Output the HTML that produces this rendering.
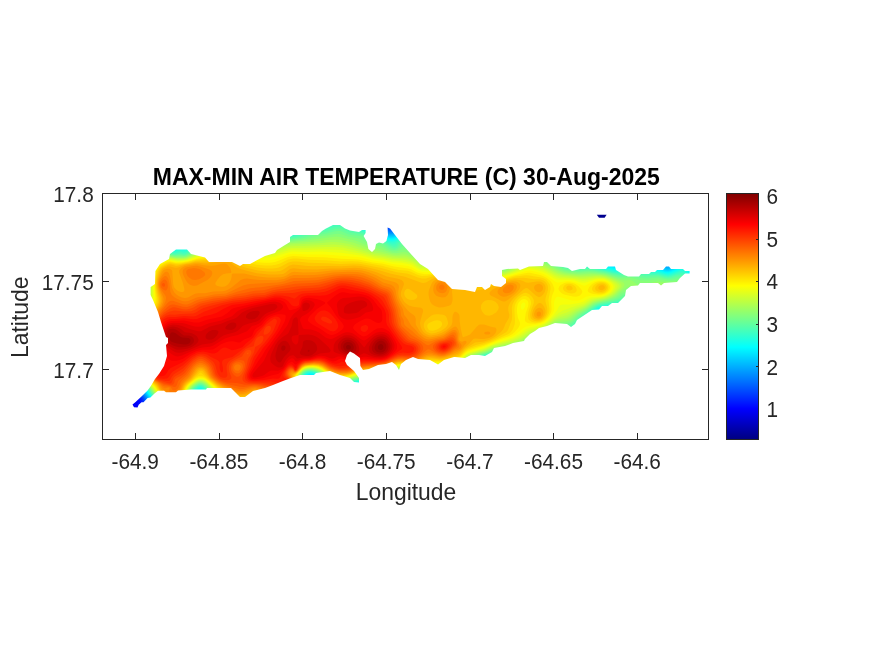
<!DOCTYPE html>
<html lang="en"><head><meta charset="utf-8"><title>MAX-MIN AIR TEMPERATURE (C) 30-Aug-2025</title>
<style>html,body{margin:0;padding:0;background:#fff}body{width:875px;height:656px;position:relative;overflow:hidden;font-family:"Liberation Sans",Arial,sans-serif}</style>
</head><body>
<svg width="875" height="656" viewBox="0 0 875 656" style="position:absolute;left:0;top:0">
<defs><linearGradient id="jet" x1="0" y1="0" x2="0" y2="1"><stop offset="0.0000" stop-color="#800000"/><stop offset="0.0156" stop-color="#8f0000"/><stop offset="0.0312" stop-color="#9f0000"/><stop offset="0.0469" stop-color="#af0000"/><stop offset="0.0625" stop-color="#bf0000"/><stop offset="0.0781" stop-color="#cf0000"/><stop offset="0.0938" stop-color="#df0000"/><stop offset="0.1094" stop-color="#ef0000"/><stop offset="0.1250" stop-color="#ff0000"/><stop offset="0.1406" stop-color="#ff1000"/><stop offset="0.1562" stop-color="#ff2000"/><stop offset="0.1719" stop-color="#ff3000"/><stop offset="0.1875" stop-color="#ff4000"/><stop offset="0.2031" stop-color="#ff5000"/><stop offset="0.2188" stop-color="#ff6000"/><stop offset="0.2344" stop-color="#ff7000"/><stop offset="0.2500" stop-color="#ff8000"/><stop offset="0.2656" stop-color="#ff8f00"/><stop offset="0.2812" stop-color="#ff9f00"/><stop offset="0.2969" stop-color="#ffaf00"/><stop offset="0.3125" stop-color="#ffbf00"/><stop offset="0.3281" stop-color="#ffcf00"/><stop offset="0.3438" stop-color="#ffdf00"/><stop offset="0.3594" stop-color="#ffef00"/><stop offset="0.3750" stop-color="#ffff00"/><stop offset="0.3906" stop-color="#efff10"/><stop offset="0.4062" stop-color="#dfff20"/><stop offset="0.4219" stop-color="#cfff30"/><stop offset="0.4375" stop-color="#bfff40"/><stop offset="0.4531" stop-color="#afff50"/><stop offset="0.4688" stop-color="#9fff60"/><stop offset="0.4844" stop-color="#8fff70"/><stop offset="0.5000" stop-color="#80ff80"/><stop offset="0.5156" stop-color="#70ff8f"/><stop offset="0.5312" stop-color="#60ff9f"/><stop offset="0.5469" stop-color="#50ffaf"/><stop offset="0.5625" stop-color="#40ffbf"/><stop offset="0.5781" stop-color="#30ffcf"/><stop offset="0.5938" stop-color="#20ffdf"/><stop offset="0.6094" stop-color="#10ffef"/><stop offset="0.6250" stop-color="#00ffff"/><stop offset="0.6406" stop-color="#00efff"/><stop offset="0.6562" stop-color="#00dfff"/><stop offset="0.6719" stop-color="#00cfff"/><stop offset="0.6875" stop-color="#00bfff"/><stop offset="0.7031" stop-color="#00afff"/><stop offset="0.7188" stop-color="#009fff"/><stop offset="0.7344" stop-color="#008fff"/><stop offset="0.7500" stop-color="#0080ff"/><stop offset="0.7656" stop-color="#0070ff"/><stop offset="0.7812" stop-color="#0060ff"/><stop offset="0.7969" stop-color="#0050ff"/><stop offset="0.8125" stop-color="#0040ff"/><stop offset="0.8281" stop-color="#0030ff"/><stop offset="0.8438" stop-color="#0020ff"/><stop offset="0.8594" stop-color="#0010ff"/><stop offset="0.8750" stop-color="#0000ff"/><stop offset="0.8906" stop-color="#0000ef"/><stop offset="0.9062" stop-color="#0000df"/><stop offset="0.9219" stop-color="#0000cf"/><stop offset="0.9375" stop-color="#0000bf"/><stop offset="0.9531" stop-color="#0000af"/><stop offset="0.9688" stop-color="#00009f"/><stop offset="0.9844" stop-color="#00008f"/><stop offset="1.0000" stop-color="#000080"/></linearGradient></defs>
<rect x="126" y="208" width="570" height="206" fill="#000087"/>
<g transform="scale(0.2)">
<path fill="#000097" d="M928 1045l14-5 991 0 27 10 25 4 105-5 60 1 90 7 215 24 55 4 125 4 70 7 80 15 135 35 60 15 55 10 45 6 50 3 175 5 40-3 90-9 45-3 0 787-65-17-65-20-60-22-115-46-45-16-50-12-20-2-25 0-50 6-150 33-105 18-75 9-130 9-45 6-25 6-25 8-81 33-39 14-40 11-40 7-40 5-40 2-130-2-45 1-110 10-55 7-55 12-89 23-31 13-27 17-978 0 0-898 21-17 24-16 25-14 30-14 45-17 95-29z"/>
<path fill="#0000a7" d="M952 1045l14-5 951 0 28 15 15 5 15 2 25 0 85-6 70 1 85 8 215 24 60 4 115 3 65 6 40 6 45 9 140 38 65 15 50 10 45 5 225 9 40-3 90-9 45-3 0 765-65-16-70-22-60-22-115-47-40-14-45-11-25-3-20 0-25 2-25 5-145 35-110 21-80 10-135 9-45 6-45 13-82 35-38 14-40 11-40 8-40 4-45 3-120-3-45 1-120 11-55 7-105 24-40 11-33 14-29 20-962 0-6-7 0-881 20-17 25-17 25-15 30-14 40-15 110-34z"/>
<path fill="#0000b7" d="M975 1045l14-5 913 0 38 22 15 5 15 3 25 0 85-7 65 1 90 8 220 26 60 3 120 3 65 6 40 6 40 9 135 37 65 15 50 10 45 6 235 9 35-2 85-9 50-2 0 743-70-17-70-22-60-23-115-48-40-14-45-10-40-2-45 7-145 39-110 22-85 12-140 9-45 7-45 14-75 33-35 13-40 12-40 8-40 5-45 3-125-2-45 1-128 11-52 7-120 27-30 8-30 14-32 24-941 0-17-24 0-854 20-18 25-18 25-15 30-14 50-19 115-34z"/>
<path fill="#0000c7" d="M998 1045l14-5 878 0 45 29 15 6 15 3 25 0 85-8 65 1 90 8 225 27 60 3 120 2 65 6 40 6 40 9 130 36 65 16 54 11 41 6 40 2 90 2 110 6 35-2 85-10 50-1 0 721-70-16-70-22-55-21-115-48-45-17-40-10-20-2-20 0-20 2-25 5-145 42-55 13-60 12-90 13-135 9-50 8-40 13-75 33-35 14-40 12-40 9-40 5-45 2-125-2-45 1-135 12-50 8-125 27-30 8-15 7-15 8-31 26-919 0-16-20-14-23 0-825 24-22 26-19 25-15 30-14 45-16 115-33z"/>
<path fill="#0000d7" d="M1021 1045l15-5 842 0 52 36 15 7 15 3 25 1 85-10 60 0 90 8 185 24 55 6 55 3 115 1 55 3 35 5 40 8 190 51 65 15 50 7 40 3 95 2 115 7 30-2 85-10 50-1 0 700-70-16-75-24-65-25-110-48-40-14-40-10-35-1-25 3-25 7-94 31-51 15-105 24-95 15-140 10-45 7-40 13-75 34-35 14-35 11-40 9-45 6-45 3-125-3-45 1-140 13-50 8-130 27-25 7-15 7-15 9-34 30-899 0-19-25-23-37 0-796 23-22 26-20 26-16 30-14 45-16 119-34z"/>
<path fill="#0000e7" d="M1045 1045l16-5 805 0 64 45 15 7 15 3 20 0 80-11 30-1 35 1 90 8 190 25 55 6 55 3 115 0 55 4 35 4 40 8 185 51 70 15 50 8 40 3 95 1 115 9 30-2 80-10 55-1 0 678-70-15-75-23-60-24-115-51-40-15-35-9-35-2-25 3-25 7-90 33-55 17-50 14-60 13-50 9-50 7-140 10-45 8-40 13-70 34-35 14-35 11-40 10-40 5-45 3-45 0-95-2-55 2-145 15-100 21-65 11-25 8-20 10-20 17-22 22-878 0-23-30-19-35-13-14 0-769 22-22 25-20 28-18 30-14 45-17 120-33z"/>
<path fill="#0000f7" d="M1070 1045l19-5 766 0 70 50 15 8 15 5 20 0 80-12 60-1 95 9 195 27 55 6 55 2 115-1 55 4 40 5 40 9 135 38 75 19 55 11 45 6 125 3 95 8 25 1 30-2 75-10 25-1 30 1 0 657-75-17-75-23-60-24-115-52-40-16-35-8-30-1-20 2-25 7-90 37-53 18-52 15-60 14-55 11-50 7-45 5-100 6-45 8-35 12-70 34-30 13-35 12-40 10-45 7-45 3-45 0-90-3-55 2-150 16-100 20-75 12-20 6-20 11-20 18-25 26-858 0-28-40-9-25-9-10-21-16 0-746 22-23 23-20 30-20 30-15 45-16 120-32 115-44z"/>
<path fill="#0008ff" d="M1099 1045l23-5 721 0 82 59 15 8 15 4 20-1 45-9 30-4 30-1 30 0 92 9 203 29 55 6 55 3 115-2 55 3 40 5 40 9 127 37 82 20 61 13 40 5 125 2 120 11 25-1 80-12 25-1 30 1 0 636-65-13-65-19-80-30-115-54-35-15-35-10-20-2-15 0-20 3-25 8-85 38-50 19-53 16-62 16-60 12-50 8-50 6-95 5-45 8-40 14-65 33-30 13-35 13-40 10-45 6-45 3-45 1-90-4-50 3-155 15-100 21-85 12-20 7-15 9-15 13-32 36-841 0-18-40-2-20-1-5-13-10-43-26 0-725 25-28 24-21 31-20 30-15 45-15 80-20 35-10 130-50z"/>
<path fill="#0018ff" d="M1135 1045l33-5 664 0 33 22 60 45 15 8 15 4 15-1 50-11 25-3 30-2 30 0 90 9 210 31 55 7 55 2 120-3 55 3 35 6 40 8 115 34 61 16 84 19 45 6 135 2 115 13 25-2 75-12 30-1 30 2 0 614-65-12-70-20-80-31-110-53-35-16-20-7-20-4-30-2-20 4-20 6-105 51-40 15-45 14-85 22-75 15-60 8-105 6-40 7-40 14-65 34-35 16-35 11-35 9-45 7-45 3-45 0-90-3-45 2-160 16-100 20-90 11-20 7-15 10-15 14-35 40-823 0-12-30-2-30-3-11-10-8-35-17-25-14 0-704 25-30 25-23 30-21 30-15 45-15 110-27 35-12 115-45 45-13z"/>
<path fill="#0028ff" d="M1191 1045l64-4 115-1 450 0 40 26 65 49 15 8 10 3 20-1 45-11 25-4 25-2 30 0 85 9 230 34 50 6 55 2 120-4 55 3 35 5 35 8 115 35 55 14 95 21 45 7 135 1 35 3 65 10 20 1 25-2 45-9 25-3 30-1 30 3 0 593-70-13-70-20-40-15-40-18-110-54-35-16-35-10-15-2-15 0-15 2-20 7-105 56-40 16-45 15-90 24-80 17-60 7-100 6-40 7-20 6-20 9-65 34-35 16-35 12-35 9-45 6-50 4-45 0-85-4-40 2-165 17-105 21-75 5-20 4-15 5-15 11-52 60-808 0-10-25-5-40-5-11-11-9-39-19-25-14 0-684 25-33 27-25 33-23 35-17 40-12 80-18 35-10 120-47 50-17 55-13z"/>
<path fill="#0038ff" d="M1425 1045l32-5 350 0 48 30 70 52 15 8 10 3 15-1 45-11 30-5 35-2 35 1 78 10 222 34 50 6 55 2 125-5 35 2 30 3 60 13 100 31 45 12 110 24 45 8 30 1 70-2 40 2 35 3 65 11 20 2 20-1 50-11 25-4 30 0 30 3 0 572-40-6-35-7-70-21-40-15-40-18-110-56-30-14-35-11-15-2-15 0-15 2-20 7-20 11-55 34-30 16-40 18-45 15-92 26-78 17-60 8-105 6-40 8-35 13-65 35-30 14-35 13-35 9-45 7-50 4-50 0-85-3-35 1-85 10-90 8-105 21-30 3-50 1-15 2-15 6-15 12-54 65-793 0-10-25-8-41-7-14-13-11-40-20-25-15 0-663 10-16 20-25 25-24 25-18 30-16 45-16 85-18 35-10 35-12 85-36 55-18 60-13 60-7 60-3 115 0z"/>
<path fill="#0048ff" d="M1475 1045l21-5 298 0 26 14 25 16 80 59 15 8 10 2 15-1 45-12 30-5 30-1 35 1 65 9 240 38 50 6 55 2 125-7 35 2 30 3 60 13 95 30 40 11 120 27 40 7 30 1 75-2 40 1 40 5 60 11 20 3 20-2 50-12 25-3 30 0 30 4 0 550-35-5-40-7-35-9-40-13-35-14-40-18-115-60-30-14-30-10-15-2-15-1-15 3-20 8-20 11-55 38-26 15-39 18-45 17-100 29-80 18-60 8-100 6-40 7-35 13-70 38-30 14-30 11-35 10-45 7-55 4-45 0-80-4-35 1-90 11-90 8-80 17-25 4-30 2-55-1-16 2-14 6-10 8-43 56-17 20-780 0-11-25-11-45-8-15-15-11-40-21-25-16 0-642 20-32 18-23 22-20 25-18 30-16 45-14 80-16 35-9 35-13 90-38 60-19 50-11 50-6 60-3 145 0 40-4z"/>
<path fill="#0058ff" d="M1510 1045l17-5 252 0 26 13 25 14 30 20 60 46 15 8 10 4 20-1 45-12 25-5 30-2 30 2 50 6 270 44 45 5 55 2 125-8 35 1 30 4 60 13 90 29 35 10 135 30 35 6 30 2 75-3 40 1 40 5 65 13 20 2 15-1 50-14 25-3 30 0 30 6 0 528-40-5-35-6-40-10-35-12-40-15-40-19-110-59-30-15-35-11-15-3-15 1-15 3-20 9-70 51-34 21-31 15-40 15-105 32-80 19-60 8-105 7-40 8-35 13-60 34-30 15-35 14-35 9-45 8-55 4-50 0-80-4-30 1-90 11-95 9-70 15-30 5-35 1-55-3-20 2-10 5-10 10-37 52-25 30-766 0-12-25-12-45-8-15-18-15-42-24-25-16 0-619 13-26 17-25 20-23 20-17 25-17 25-12 40-13 80-14 40-11 30-11 90-38 35-13 30-8 55-11 55-6 55-1 115 1 40-2 45-6z"/>
<path fill="#0068ff" d="M1540 1045l18-5 204 0 33 14 30 17 30 19 60 45 16 10 14 5 20-1 45-12 25-5 25-1 30 1 35 5 165 26 130 23 45 5 55 1 115-9 35 1 35 3 57 13 88 29 35 10 145 32 30 5 30 2 75-4 45 2 40 5 60 14 20 3 15-2 45-13 25-5 30 0 35 7 0 507-35-3-40-7-40-10-40-13-35-14-40-19-110-60-30-15-35-12-15-3-15 0-20 5-20 11-61 48-37 25-32 16-40 16-110 35-80 19-60 9-100 6-40 7-35 14-65 37-30 15-30 11-35 10-45 7-55 5-50-1-80-4-30 1-90 13-95 8-75 16-35 5-35-1-55-6-15 1-10 6-9 10-36 55-29 35-753 0-12-25-16-49-10-16-15-13-46-27-24-17 0-594 15-34 20-31 20-23 20-17 25-17 25-11 40-12 80-14 35-9 30-11 92-40 33-11 30-9 55-11 55-5 55-1 120 2 45-3 45-8z"/>
<path fill="#0078ff" d="M1569 1045l20-5 153 0 38 14 35 18 35 22 65 47 15 9 15 5 10 1 10-1 40-12 20-4 20-2 25 0 45 5 195 32 110 20 45 6 45 1 110-10 30-1 30 1 35 5 35 8 100 33 35 9 175 37 30 2 75-4 45 1 45 7 60 15 15 2 15-1 45-16 25-4 30 0 35 9 0 485-35-3-40-6-40-10-35-11-40-15-40-19-110-62-35-17-35-12-15-2-15 1-20 5-15 9-62 53-35 25-33 18-35 15-116 37-79 20-60 9-105 7-40 8-35 15-60 35-30 15-30 12-35 9-45 8-55 4-50 0-80-4-30 1-90 13-95 8-75 16-35 5-35-1-60-11-15 1-9 5-6 6-37 64-15 20-19 20-739 0-14-25-17-50-10-15-19-17-45-28-25-18 0-566 18-46 11-20 13-20 18-20 20-17 20-14 25-12 40-12 80-12 35-9 30-11 95-42 35-12 30-8 55-10 55-5 55-1 115 3 50-2 45-9z"/>
<path fill="#0087ff" d="M1601 1045l27-5 85 0 37 9 30 12 35 17 35 22 65 46 20 11 15 3 15-1 55-14 20-3 25 0 40 5 90 16 120 20 105 19 45 7 30 1 25-1 110-12 30 0 25 1 30 4 35 8 95 33 35 10 80 15 75 18 25 5 35 1 75-5 40 1 50 8 55 16 15 3 15-2 45-17 25-5 30 2 35 10 0 463-35-2-40-6-40-9-40-13-35-14-40-19-110-63-30-15-20-8-20-5-15-2-15 0-20 4-18 11-62 57-35 26-30 17-35 15-122 40-76 20-57 9-105 7-40 8-18 6-17 8-60 36-30 15-30 12-35 10-45 8-55 4-50 0-80-4-30 1-90 13-95 8-75 17-35 4-40-3-21-4-39-11-15-1-10 6-5 7-23 49-15 25-15 20-19 20-727 0-15-25-19-50-12-19-15-14-49-32-26-20 0-533 11-37 12-30 13-25 14-20 15-17 20-17 20-13 25-11 35-10 80-12 40-9 30-12 90-40 30-11 35-10 55-10 55-5 55 0 120 4 45-2 45-9 87-26z"/>
<path fill="#0097ff" d="M1645 1045l30-2 30 2 30 6 30 10 30 14 30 16 95 63 15 7 15 4 15-1 40-12 20-3 25-2 25 2 30 4 90 18 120 19 110 22 55 6 45-1 105-13 30-1 30 2 30 5 30 7 95 33 30 9 90 17 75 18 25 4 30 1 75-6 40 1 50 8 60 18 15 3 15-3 40-17 20-5 25 0 30 8 15 6 0 440-35-1-40-5-40-9-35-11-35-13-40-19-110-63-35-18-20-7-20-6-20-2-15 0-20 6-15 9-15 13-50 49-30 24-27 16-33 15-133 45-72 20-60 9-100 7-25 4-20 5-35 15-57 35-28 15-30 12-35 10-50 8-55 4-50 0-75-5-30 1-90 14-100 9-70 16-35 4-25-1-20-3-25-7-40-16-10-1-5 1-5 5-5 9-17 45-15 30-18 25-24 25-714 0-15-25-21-50-12-20-19-17-49-33-26-21 0-496 13-53 12-35 15-30 18-25 17-18 20-16 20-11 20-9 35-9 75-10 40-8 30-12 90-41 35-13 35-9 50-9 55-4 55 0 120 4 50-2 45-9 110-34z"/>
<path fill="#00a7ff" d="M1627 1055l33-4 35 0 30 5 30 8 30 13 35 18 95 61 20 10 15 4 15-1 35-11 20-4 25-2 25 2 30 5 85 18 125 20 120 24 50 6 45-1 75-12 30-4 30 0 30 2 30 4 30 8 90 32 30 9 95 17 85 21 35 3 80-7 45 1 25 4 30 6 60 19 10 2 10-2 40-18 20-6 25-1 24 6 26 12 0 417-35-1-40-4-40-9-35-10-35-14-40-18-105-61-35-18-25-9-20-5-20-3-20 1-20 6-15 10-60 61-30 25-30 18-30 14-139 48-70 20-56 9-100 7-45 9-15 5-20 10-57 35-28 15-30 12-35 10-50 9-55 4-50 0-75-5-30 1-90 15-100 8-70 16-35 4-30-2-25-5-25-10-35-18-10-3-5 0-5 3-5 10-12 46-15 35-20 30-29 30-700 0-18-25-24-55-12-18-15-15-53-37-27-23 0-460 19-77 9-30 14-30 20-30 13-15 20-17 20-12 20-9 35-9 75-8 45-10 25-10 90-42 35-13 35-9 50-9 55-4 55 0 125 6 45-2 40-8 100-31z"/>
<path fill="#00b7ff" d="M1641 1060l29-3 30 1 30 5 30 10 30 13 35 18 88 56 22 10 15 4 15-1 35-10 20-4 20-2 25 2 30 5 90 21 125 20 130 26 40 5 20 0 25-2 75-13 30-4 30-1 30 2 30 5 30 8 85 31 30 9 25 6 75 11 90 22 30 3 75-8 50 1 30 4 25 6 70 22 15-3 30-16 20-7 25-2 20 4 13 6 22 12 0 393-35 0-35-3-35-6-40-11-35-13-40-18-35-19-75-45-31-15-24-9-25-6-20-2-20 0-15 3-17 9-18 16-46 49-24 22-30 20-35 17-144 51-66 19-60 11-100 7-45 10-31 13-59 37-25 14-35 14-35 9-50 8-55 4-50-1-70-4-25 0-95 16-100 8-70 17-35 4-30-3-25-6-27-12-38-24-10-3-5-1-5 3-5 7-11 58-14 35-12 20-11 15-14 15-16 15-431 0-16-8-15-2-10 2-16 8-199 0-10-12-10-15-25-53-15-23-20-18-48-34-27-25 0-428 10-32 16-70 9-30 15-32 19-28 15-15 16-13 20-12 20-9 35-8 70-6 45-9 25-10 90-43 35-13 35-10 50-8 55-4 55 1 125 6 50-2 40-8 110-36z"/>
<path fill="#00c7ff" d="M1659 1065l26-1 25 2 25 5 26 9 29 13 30 15 90 55 25 11 15 4 15 0 35-11 20-4 20-1 20 2 30 6 90 22 120 19 135 28 45 6 25 0 20-2 70-14 35-5 30-1 30 1 30 5 30 9 85 32 30 9 25 5 75 10 90 23 30 2 75-8 50 1 30 4 30 7 65 21 5 1 10-4 30-16 20-7 20-2 20 4 15 7 25 16 0 368-35 1-35-2-35-6-40-11-35-12-40-19-105-60-35-17-25-8-25-6-25-2-20 0-15 4-15 9-15 13-52 55-21 20-27 19-30 15-155 56-65 20-55 10-100 7-45 10-31 13-64 40-25 13-30 12-35 10-50 8-60 4-45-1-70-4-25 0-95 17-100 8-70 16-35 4-30-3-25-7-25-12-45-30-10-3-5 0-6 3-6 10-8 60-6 20-9 20-12 20-12 15-14 15-17 15-406 0-34-24-15-5-5 1-10 5-29 23-174 0-12-13-10-14-29-58-14-20-17-16-52-39-28-27 0-400 17-48 16-75 9-30 14-30 19-28 15-15 15-12 15-9 20-9 35-8 70-6 45-8 25-9 60-31 35-15 35-13 35-9 50-8 50-2 50 1 130 6 50-1 40-9 120-38 30-7z"/>
<path fill="#00d7ff" d="M1641 1075l29-4 25 0 25 4 30 8 35 14 35 17 84 51 26 12 20 6 15-1 35-11 15-3 20-1 20 2 25 5 60 17 35 8 125 19 135 29 45 6 25 1 20-2 70-16 35-6 35-1 30 2 25 5 30 8 80 31 30 10 30 6 70 8 90 23 20 3 25 0 70-8 45 2 30 3 30 7 25 7 35 13 10 1 10-3 30-16 20-8 20-2 15 4 15 7 30 22 0 342-35 3-35-2-35-5-35-9-35-12-40-17-35-19-70-42-35-16-25-8-25-5-30-3-25 1-15 4-15 10-85 86-25 19-30 16-165 60-55 17-55 11-100 8-50 11-15 6-20 10-50 32-25 14-30 13-35 11-50 8-65 4-40 1-75-6-25 1-95 17-105 9-65 16-35 4-30-4-25-7-25-13-40-30-10-4-10-2-10 3-5 6-3 7-6 60-7 25-9 20-12 20-13 15-15 16-18 14-384 0-18-15-35-32-10-5-5 0-5 2-30 35-17 15-154 0-14-14-12-16-29-55-14-21-15-15-57-44-28-29 0-375 14-31 10-30 16-80 9-30 13-30 18-25 15-15 15-11 15-9 20-9 30-7 70-4 50-8 20-8 60-32 30-13 35-13 40-11 50-8 50-2 50 1 130 7 50-1 37-7 103-34z"/>
<path fill="#00e7ff" d="M1656 1080l24-2 25 1 20 4 25 7 60 26 25 13 60 36 30 14 20 7 10 1 10-1 35-10 15-3 15-1 20 1 30 7 55 17 30 8 145 23 120 26 35 7 25 2 25-1 20-4 55-14 30-6 30-3 30 1 30 4 35 9 85 34 30 10 25 4 55 5 25 4 100 25 25 1 75-9 40 1 35 4 30 6 25 7 30 11 15 3 15-5 30-16 15-5 15-2 15 2 12 6 23 20 15 10 0 316-30 4-35 0-35-4-35-8-35-11-40-17-35-19-75-44-35-15-24-7-26-4-35-2-25 1-15 5-15 11-72 74-18 17-20 14-25 13-177 66-48 15-55 10-95 8-53 12-32 15-55 36-25 13-30 13-35 9-50 8-65 4-40 0-70-5-25 1-95 18-105 8-65 17-35 3-25-2-25-7-25-13-37-28-13-8-15-4-10 1-7 6-5 10-2 10-2 35-2 20-6 20-8 20-12 20-16 20-16 15-20 15-363 0-19-15-15-15-18-20-19-27-10-8-5 1-5 6-12 28-16 25-14 15-12 10-134 0-7-5-15-15-10-14-30-56-15-20-15-14-56-46-29-31 0-352 18-37 12-32 7-28 10-60 8-30 14-30 16-22 13-13 12-10 17-10 18-8 15-4 20-4 60-2 55-8 20-7 55-30 35-17 35-13 40-10 45-7 50-3 45 1 145 8 50-1 40-9 115-38z"/>
<path fill="#00f7ff" d="M1680 1085l20 0 20 4 20 5 25 9 55 24 70 41 35 15 20 7 10 1 10 0 35-11 15-3 30 1 29 7 56 19 30 8 145 23 160 34 25 3 25-2 20-3 55-16 25-5 30-4 30 0 30 4 35 8 30 11 60 26 30 9 25 4 50 4 25 3 110 27 25-1 65-8 40 1 35 4 35 6 25 6 30 11 15 2 15-4 30-15 15-5 15-2 10 1 13 6 20 20 22 16 0 289-30 6-35 1-30-3-35-6-35-11-40-16-35-19-75-43-35-15-25-7-30-4-40 0-25 2-15 5-13 10-73 75-19 17-20 14-20 10-75 27-106 42-46 15-53 10-95 9-55 12-35 17-50 33-25 14-30 12-35 10-50 8-70 4-45 0-65-5-20 0-95 19-105 9-65 17-35 3-25-3-25-7-25-14-45-33-15-6-15 0-10 6-6 10-3 15-1 35-3 20-5 20-9 20-12 20-16 19-20 18-19 13-342 0-20-15-21-20-20-25-23-39-5-6-5-3-5 0-5 3-5 6-15 44-11 20-16 20-19 15-114 0-15-11-14-14-11-15-27-50-13-19-15-15-55-46-20-20-15-19 0-328 24-48 12-30 7-30 10-65 8-30 12-25 18-25 14-14 15-11 15-8 15-6 30-7 60 0 45-5 15-4 15-6 55-30 35-17 35-13 40-11 45-6 50-2 180 8 40 1 20-1 40-9 85-29 53-15 32-7z"/>
<path fill="#08fff7" d="M1657 1095l23-3 20 1 20 3 20 5 70 28 74 41 61 24 10 2 10-1 30-9 15-4 15-1 15 2 29 7 56 21 30 9 30 5 120 17 130 30 35 6 25 2 20-1 20-4 55-17 25-6 30-4 30 0 30 4 35 9 30 11 55 24 30 10 30 5 50 3 25 3 110 27 25-1 65-8 40 1 70 9 25 6 30 10 15 2 15-3 30-14 15-6 15-2 10 2 10 5 15 18 30 24 0 262-30 7-30 3-35-2-35-6-35-10-40-17-35-18-70-41-35-15-25-6-25-2-40-1-35 3-15 4-10 7-95 94-20 14-20 11-75 26-115 47-40 13-50 10-95 9-55 13-15 6-23 12-52 34-20 12-30 12-35 10-50 8-70 4-40 0-65-5-25 0-90 19-35 4-75 5-65 17-35 4-25-3-25-8-23-13-32-25-15-10-15-6-15 0-11 6-5 5-5 10-2 10-1 40-3 20-5 20-9 20-13 20-16 18-20 17-24 15-320 0-26-19-22-21-19-25-27-45-7-7-5-3-5 0-5 2-10 11-5 11-13 41-14 25-18 18-19 12-91 0-25-17-13-13-11-15-26-47-12-18-15-15-58-50-18-20-17-22 0-305 28-53 13-30 8-30 9-65 6-30 13-30 18-27 14-13 11-9 15-8 15-7 15-4 20-3 55 1 60-7 15-6 55-31 35-17 35-13 40-11 45-6 45-2 165 8 55 2 25-1 35-7 100-33z"/>
<path fill="#18ffe7" d="M1676 1100l19 0 15 1 32 9 68 26 70 38 65 25 10 2 10-1 40-13 15-1 15 2 28 7 57 24 30 9 30 5 75 9 45 7 50 10 90 22 35 7 25 1 20-2 95-28 30-4 30-1 30 4 30 8 30 11 60 27 30 10 30 4 50 1 25 3 110 27 25 0 65-8 35 1 80 10 20 4 30 9 15 2 15-3 45-18 10-2 12 1 9 5 19 22 30 26 0 234-30 9-30 4-30 0-35-5-35-9-40-16-35-18-75-43-35-14-25-4-25-1-45 1-35 3-10 3-13 8-53 50-44 44-15 11-20 11-70 24-119 50-46 16-50 10-90 9-60 15-35 17-50 33-25 14-30 12-30 8-50 7-75 5-40 0-65-6-20 1-85 19-35 5-80 5-60 16-35 4-25-2-25-7-25-14-45-33-20-8-15-1-10 5-5 3-8 12-3 15-2 40-3 20-7 25-11 20-15 20-16 16-20 15-24 14-298 0-28-19-23-21-20-25-32-51-9-9-6-3-10 2-12 11-8 15-13 40-10 20-17 20-20 14-13 6-65 0-17-8-20-14-20-24-30-52-10-14-15-15-38-33-21-20-18-20-18-26 0-281 34-63 13-30 10-35 7-65 6-30 13-30 18-25 14-13 15-11 15-7 20-7 30-3 45 3 25-4 25-1 10-1 15-7 60-34 30-15 35-13 40-10 40-6 45-2 155 8 95 1 40-8 85-28 70-20z"/>
<path fill="#28ffd7" d="M1662 1110l33-3 20 2 15 5 80 28 65 35 75 28 10 1 10-1 24-10 11-3 25 0 27 8 58 26 30 10 30 5 80 9 45 6 45 10 95 23 35 7 25 2 20-2 20-5 50-18 25-7 30-5 30 0 30 4 30 8 30 11 55 26 30 10 35 5 50 0 25 3 30 6 80 20 25 1 60-7 35 0 90 10 20 4 25 8 15 2 15-3 45-17 10-2 10 1 8 4 17 21 35 35 0 202-25 10-30 7-30 2-35-3-35-9-40-14-35-18-75-43-20-9-15-5-20-3-20-1-95 7-15 5-10 7-60 54-40 40-15 11-15 8-70 23-123 53-42 15-50 11-90 10-60 15-40 19-50 33-20 11-25 11-30 8-55 9-80 5-35 0-65-6-20 1-85 20-40 5-75 5-15 3-45 13-35 4-30-3-25-9-20-12-37-28-18-10-15-3-15 2-10 5-5 4-7 12-3 15-1 35-3 25-9 25-11 20-16 21-20 18-20 13-25 13-274 0-31-19-25-22-24-29-33-50-8-8-10-5-13 3-12 10-9 15-13 40-10 20-16 20-22 16-25 8-30 0-15-3-15-6-15-10-10-8-20-24-35-58-15-16-44-39-20-20-20-25-16-25 0-257 42-78 13-30 9-35 5-60 6-30 11-30 10-15 9-12 14-13 16-11 15-7 20-6 30-2 40 4 30-4 20 1 10-2 15-7 55-32 30-15 40-15 40-11 40-5 40-2 150 9 110 0 43-10 82-26z"/>
<path fill="#38ffc7" d="M1684 1115l21 0 15 4 40 15 45 14 20 8 45 25 45 15 25 12 15 4 15 1 30-15 10-2 15 1 27 8 53 27 35 12 30 5 80 8 45 6 50 11 100 24 35 7 20 1 20-1 20-6 49-19 26-8 30-5 30 0 30 4 30 8 27 11 58 27 30 10 35 5 50-1 25 2 115 27 25 0 50-6 35 0 100 10 40 10 15 2 15-2 45-16 10-1 10 1 5 4 55 64 0 166-23 13-27 9-30 4-35-1-35-7-40-14-40-19-75-43-20-9-15-4-15-2-20 0-100 11-15 4-16 11-58 50-41 40-13 10-12 6-70 23-127 56-43 16-45 10-90 11-60 15-19 8-26 13-45 31-20 11-25 11-30 8-55 9-85 6-35-1-60-6-20 1-85 20-35 5-85 6-55 16-20 3-15 1-30-4-25-9-20-12-35-27-15-8-20-5-15 2-10 4-6 5-5 5-5 10-2 15-2 40-3 20-9 25-11 20-17 20-20 17-25 16-29 12-245 0-31-16-30-23-28-31-38-55-9-8-10-4-5 0-10 3-15 13-9 16-13 40-11 20-17 19-20 13-25 7-15 1-15-1-25-9-15-10-10-8-20-25-35-56-15-16-44-40-19-20-19-25-18-31 0-230 16-34 34-60 11-25 9-35 5-65 6-30 12-30 17-25 15-13 15-10 16-7 19-5 25-1 45 5 25-5 20 3 10-1 10-5 55-33 35-18 40-15 40-10 35-5 40-2 150 9 115 0 51-12 74-23 50-12 35-11z"/>
<path fill="#48ffb7" d="M1673 1125l22-2 15 1 15 5 35 15 45 11 20 8 40 23 15 6 35 9 30 15 15 6 10 1 5-1 14-12 11-7 10-1 10 0 25 8 55 30 35 13 30 5 75 5 50 7 50 10 105 26 35 7 20 2 20-2 20-6 50-20 25-8 30-6 30 0 30 4 30 9 25 10 55 27 30 10 40 6 50-2 25 2 60 12 40 11 20 3 20 1 50-6 25 0 60 6 55 4 35 9 15 2 15-2 35-12 20-2 10 4 5 5 38 46 17 26 0 120-10 10-15 11-15 7-15 5-35 5-35-2-35-7-40-15-30-16-65-37-25-12-25-6-15 0-15 1-100 16-20 6-15 10-58 48-42 41-13 9-12 6-60 17-140 64-40 15-45 10-85 10-65 18-42 20-44 30-19 11-25 10-30 9-50 8-95 7-35-1-55-6-20 0-15 3-50 15-25 5-35 4-80 6-55 16-20 3-15 1-30-4-25-9-20-13-33-25-17-9-20-5-15 2-15 7-6 5-6 10-4 15-1 40-4 25-10 25-14 23-20 21-25 18-25 12-32 11-210 0-8-3-35-17-30-22-26-28-44-59-10-9-10-3-9 1-6 2-17 13-9 15-14 40-10 19-15 18-20 14-25 8-15 1-15-1-25-9-15-10-10-9-20-24-25-42-10-13-54-52-27-30-20-30-14-28 0-202 16-35 39-70 14-30 8-35 4-65 4-25 11-30 9-15 10-12 14-13 16-10 15-6 20-5 25-1 40 8 25-6 20 5 10-2 60-36 35-18 45-18 40-10 35-4 35-2 150 10 45 0 75-2 55-12 70-20 50-12z"/>
<path fill="#58ffa7" d="M1671 1135l19-3 20 1 45 20 40 7 15 4 50 28 20 6 35 8 30 18 20 9 10 1 5-1 5-4 9-14 6-6 10-1 10 1 27 11 53 31 30 11 30 5 75 3 50 7 50 10 110 27 35 7 20 2 20-1 20-6 50-23 25-8 30-5 30-1 25 4 28 7 27 11 65 31 20 7 25 4 30 2 40-3 25 2 60 11 50 13 25 4 15 0 40-5 20 0 65 7 56 1 34 9 15 2 15-2 30-9 20-1 10 4 10 9 26 33 18 30 11 31 0 43-5 14-7 12-8 10-15 12-15 8-15 5-20 4-20 1-20-1-20-3-40-12-40-19-75-44-20-9-15-4-10-1-15 1-50 12-75 14-14 6-15 10-58 45-38 37-20 14-15 5-35 8-15 5-145 69-35 14-45 10-90 12-65 20-40 18-45 31-20 11-30 11-40 10-45 5-90 6-35-1-50-6-15 0-85 23-35 5-85 6-55 16-20 3-15 1-25-3-25-8-20-12-35-27-16-8-19-6-10 0-10 1-10 4-10 6-5 6-5 9-4 15-1 40-5 25-10 25-15 23-23 22-27 17-30 13-35 9-8 1-162 0-35-11-30-15-25-19-30-31-41-54-11-10-13-5-10 1-8 4-8 5-11 10-8 15-13 35-10 20-17 20-20 13-10 4-15 3-25-1-25-9-15-10-10-9-17-21-33-51-60-59-25-30-21-35-14-32 0-170 9-23 11-25 43-75 12-25 6-20 3-20 2-60 5-30 11-30 8-13 10-12 11-10 15-10 14-6 20-5 15-2 15 1 35 8 25-4 20 4 7-1 13-6 50-31 40-20 40-15 40-10 30-4 30-1 35 1 85 7 40 2 45 0 75-5 60-11 75-20 45-9z"/>
<path fill="#68ff97" d="M1674 1145l16-2 15 0 10 3 35 17 45 6 15 3 35 21 15 7 15 5 40 8 30 20 20 8 10 1 10-3 6-4 14-16 10-2 11 3 14 6 55 34 30 11 30 5 75 2 50 5 50 10 110 28 45 8 25 1 15-2 20-7 46-21 24-9 25-5 30-1 25 3 30 8 25 10 65 31 20 7 20 4 35 3 45-3 30 2 55 10 50 13 25 5 15 0 40-5 15 1 65 8 65-1 30 9 15 1 15-1 30-7 15 0 10 4 10 9 15 19 15 25 9 20 4 15 3 20-2 15-4 15-5 10-10 13-10 8-14 9-16 6-15 3-20 2-35-4-20-5-21-7-39-19-75-44-20-8-15-4-20 1-55 19-75 15-15 6-14 9-31 24-35 24-35 34-20 13-60 15-55 28-95 45-35 14-40 10-90 13-35 12-30 8-44 20-41 28-21 12-29 11-35 8-40 6-100 7-30 0-50-7-20 0-85 24-35 5-85 6-55 16-20 3-15 1-25-3-25-9-20-12-35-26-15-7-20-6-20 1-10 3-10 6-8 8-5 10-4 15-1 35-4 25-9 25-17 25-22 21-25 16-30 13-30 7-55 7-72 1-43-5-35-10-30-15-27-20-28-28-46-57-13-10-11-3-10 1-10 4-11 8-9 9-7 11-13 35-10 20-15 18-20 15-10 4-15 3-25-1-25-9-15-10-10-9-15-18-35-53-55-55-25-30-13-20-10-20-9-20-8-25 0-130 9-30 13-30 16-30 32-53 12-27 6-20 3-20 1-60 4-30 5-15 7-15 17-23 14-12 16-9 15-6 15-3 25 0 35 9 25-3 20 3 7-1 11-5 52-31 40-20 45-16 40-10 30-3 30 0 140 11 40 0 40-2 65-7 45-7 85-21 45-7z"/>
<path fill="#78ff87" d="M1689 1155l11 0 10 3 25 11 15 5 55 7 9 4 21 14 15 8 20 6 40 7 31 20 14 7 10 2 10 1 10-2 25-16 10-1 20 8 45 27 20 9 20 7 30 3 75 0 45 5 45 9 115 28 45 8 25 3 20-2 20-7 50-24 20-7 25-6 30-1 25 3 30 8 25 11 60 30 20 7 20 3 40 4 50-3 30 2 55 9 55 16 20 4 60-4 50 9 25 2 55-4 50 10 15-1 25-4 15 0 10 5 10 8 11 14 9 16 8 19 4 15 2 15-1 15-5 15-5 10-8 10-15 12-15 7-15 4-15 2-20 0-35-6-35-14-30-16-60-37-20-10-25-6-20 1-10 4-23 14-22 9-35 9-40 8-15 6-15 8-30 23-40 26-30 28-15 11-15 7-35 6-15 4-55 31-60 28-53 26-27 10-25 6-95 15-35 13-30 8-45 19-45 31-20 11-25 9-35 8-40 5-105 8-30 0-50-7-15 0-15 4-45 14-25 7-35 5-85 6-55 16-30 4-25-2-25-8-20-11-35-26-20-10-25-5-20 2-10 4-10 7-6 7-5 10-3 15-2 40-4 20-10 25-14 20-20 20-21 14-30 14-30 8-50 6-80 2-40-4-35-9-30-14-30-22-30-29-45-54-15-11-10-3-10 1-10 5-21 16-9 14-14 36-11 20-15 17-20 13-10 3-15 3-25-2-15-6-10-5-20-17-15-18-31-48-55-55-16-20-15-20-14-25-11-25-7-25-6-28 0-70 8-37 8-25 13-30 14-25 33-55 12-25 5-20 3-20 1-65 3-25 4-15 7-15 9-15 10-11 10-9 15-9 15-6 15-3 25-1 35 8 25-1 20 2 10-2 15-7 45-27 40-19 45-16 40-9 30-3 30 0 125 12 35 1 35-2 140-17 40-8 45-11 40-5 35-9z"/>
<path fill="#87ff78" d="M1674 1170l16-1 10 1 45 14 50 9 30 15 20 9 25 8 35 6 35 18 20 7 20 1 35-11 15 2 15 7 35 20 30 13 15 4 25 2 75-1 40 3 47 9 113 27 50 10 30 3 20-2 15-5 50-24 25-10 25-5 30-2 25 4 30 8 25 11 55 28 20 7 15 3 50 5 55-3 35 2 50 8 65 20 20 2 40-3 45 12 15 2 25 0 50-7 50 9 45-1 10 3 10 8 15 20 6 15 4 15 0 25-4 15-6 10-8 10-12 9-10 4-15 5-15 1-20 0-30-7-31-12-29-17-55-37-20-10-25-7-10 0-10 3-20 9-20 17-20 10-30 10-45 9-20 7-15 10-30 21-40 25-30 27-12 8-18 7-35 6-15 5-50 31-65 29-51 27-24 9-25 7-100 17-30 13-35 10-45 18-40 29-20 11-25 9-30 7-35 5-115 10-30-1-50-7-15 0-15 4-45 15-25 6-35 5-80 7-20 4-40 12-30 4-25-2-25-8-20-11-38-28-17-8-25-5-20 3-10 4-10 6-12 15-4 15-3 40-3 20-9 25-14 21-19 19-21 14-25 12-30 8-50 6-85 3-40-4-35-9-30-15-25-17-30-28-50-57-15-10-10-3-10 1-10 4-15 10-11 10-6 10-14 35-11 20-13 16-20 13-10 4-15 3-10 0-15-2-15-5-10-6-20-17-15-18-30-45-56-58-15-20-14-20-15-30-11-30-7-30-3-30 0-25 3-30 6-25 8-25 17-40 43-70 14-31 5-19 2-20 0-65 3-25 5-15 6-15 9-13 10-11 14-11 11-6 15-6 15-3 25 1 30 7 45 0 10-1 15-7 50-28 40-18 40-14 40-8 30-3 30 0 120 13 30 1 30-1 35-3 55-9 80-9 75-15 35-4z"/>
<path fill="#97ff68" d="M1658 1185l22-2 15 1 80 18 15 5 25 12 55 19 35 8 55 18 20 2 35-6 15 1 15 6 60 29 20 6 25 1 70-3 40 3 40 7 135 32 40 6 30 3 17-1 13-4 60-27 25-10 25-5 30 0 25 4 25 8 20 9 50 26 30 10 20 4 45 4 70-3 55 5 25 6 50 18 15 4 20 3 25-2 5 1 9 4 21 17 10 5 25-3 52-14 18-3 15 2 30 5 40 3 10 3 7 5 12 15 7 20 0 20-2 10-5 10-8 10-11 8-10 4-15 4-15 1-15-1-20-5-15-6-30-15-32-25-33-33-10-8-15-2-25 1-10 1-38 26-14 15-14 10-34 13-50 12-20 7-40 28-40 22-30 25-15 10-15 6-35 6-15 4-50 33-65 30-55 30-24 9-21 6-100 19-35 14-38 11-42 17-35 26-20 11-25 10-30 7-35 5-120 10-25-1-50-6-15-1-15 4-45 16-25 6-35 5-80 7-20 4-40 13-30 3-25-2-25-8-20-12-35-25-19-9-26-5-20 3-10 3-10 6-8 8-7 10-4 15-2 40-4 20-10 25-14 20-21 20-20 12-25 11-25 6-45 5-90 2-35-2-35-8-30-14-25-16-30-27-54-59-11-8-15-5-10 1-10 4-25 18-10 14-15 36-10 18-15 16-16 11-14 5-10 2-15 0-10-2-15-6-10-6-20-17-15-18-29-43-52-55-16-20-13-20-15-30-11-30-7-30-3-30 1-25 3-30 6-25 8-25 21-45 43-70 11-25 4-20 2-25-1-55 3-25 3-15 6-15 10-15 9-10 12-10 10-6 15-6 15-4 20 0 40 7 40 0 10-1 13-5 57-30 40-17 40-13 35-7 30-2 30 0 110 14 55 2 45-5 65-12 85-7z"/>
<path fill="#a7ff58" d="M1634 1200l36-3 30 2 70 15 105 39 30 4 60 15 20 2 30-3 15 2 20 6 30 14 25 14 15 4 30 1 65-4 40 2 40 7 115 28 65 10 30 2 20-2 25-9 55-25 20-7 25-4 30 1 20 4 25 8 65 33 35 11 70 8 60-4 25 1 30 3 20 4 30 10 52 21 7 5 3 5 0 5-4 10-8 10-15 12-15 16-15 11-30 12-45 10-20 6-13 8-27 19-45 24-40 30-15 5-35 7-16 5-49 34-70 31-52 30-23 9-20 6-100 21-35 15-30 8-30 10-25 11-30 24-15 9-20 8-20 6-45 8-125 12-30 0-50-7-15 0-15 4-45 16-25 6-30 5-85 7-20 5-40 12-30 4-25-3-25-8-20-12-35-25-15-7-25-5-25 2-10 3-10 6-11 10-6 10-5 15-1 35-5 25-11 25-15 20-21 18-25 14-25 8-30 6-35 2-100 2-30-4-30-8-25-12-25-17-30-26-55-58-15-9-10-3-10 2-10 4-15 9-14 12-7 10-15 35-12 20-14 15-18 12-20 5-15 0-10-2-15-5-10-6-20-17-15-19-26-38-51-55-15-20-13-20-15-30-10-30-7-30-3-30 1-30 3-25 6-25 8-25 19-40 44-70 11-25 4-20 2-25 1-20-2-40 3-25 4-15 6-15 15-21 11-9 14-9 25-8 20-1 45 8 30 0 15-2 15-5 55-28 40-16 40-13 35-6 25-2 30 0 110 16 30 2 25 0 45-5 70-15 145-10zM3281 1425l14-2 15 0 41 7 19 6 10 8 6 11 2 15-5 15-8 9-9 6-21 5-15 0-15-3-15-5-14-7-14-10-10-10-7-10-2-10 3-10 5-5 8-5z"/>
<path fill="#b7ff48" d="M1653 1210l37 1 50 8 30 8 100 34 45 8 40 9 25 3 40 0 15 2 35 13 30 19 15 5 30 1 70-5 35 1 40 7 110 27 65 10 35 2 25-3 20-6 60-26 20-7 25-5 30 2 20 4 24 8 61 32 15 5 20 6 75 8 20 0 60-4 30 1 25 5 30 11 34 16 12 10 2 10-1 5-8 10-24 25-15 10-30 13-45 10-20 7-40 26-45 22-35 25-15 6-40 9-15 6-45 34-20 9-55 23-51 30-19 8-21 7-99 22-40 17-30 8-35 12-20 10-25 20-15 9-15 7-20 6-45 9-65 5-70 8-30 0-45-6-15-1-15 4-45 16-25 7-30 5-85 8-20 4-40 12-25 4-25-2-25-7-20-11-36-26-19-9-15-3-15-2-25 4-10 4-8 6-10 10-7 10-4 15-2 35-4 20-7 20-13 20-15 15-20 14-25 12-25 7-40 4-110 2-30-3-30-7-30-14-25-17-30-26-50-52-15-10-15-5-10 1-15 7-17 12-11 10-6 10-21 44-10 14-10 9-15 10-15 5-15 1-15-2-15-6-10-6-20-17-14-17-28-40-38-40-23-30-12-20-13-25-8-20-7-25-6-45 0-25 2-25 10-40 13-35 19-35 35-55 12-25 4-20 2-25 1-25-2-40 3-25 6-20 8-15 11-14 10-8 20-11 25-6 15 0 40 7 30 0 15-2 17-6 58-26 40-16 40-11 35-6 25-1 25 1 105 17 30 3 25 0 45-5 80-18 145-7zM3319 1460l1-1 6 1-1 2z"/>
<path fill="#c7ff38" d="M1614 1225l56-3 45 4 45 10 115 35 40 6 50 11 70 4 35 12 29 21 11 4 35 1 60-6 40 0 40 7 105 26 65 9 40 2 30-2 25-8 75-31 25-4 25 1 25 6 20 6 19 9 41 22 15 6 20 5 90 10 20-1 55-6 25 1 20 4 27 9 29 15 13 10 5 10-1 5-3 5-20 22-10 9-14 9-26 11-45 9-20 7-35 23-47 20-38 24-45 14-20 9-35 27-15 10-75 30-35 23-20 10-35 13-90 22-15 5-30 14-30 8-40 13-17 8-24 20-14 9-15 7-25 7-40 8-65 4-75 10-25 0-45-7-15 0-15 4-45 16-25 7-30 4-80 8-25 5-40 12-25 4-25-2-25-7-20-11-35-25-20-9-25-4-25 2-20 8-16 15-6 10-5 15-2 35-4 20-8 20-14 20-20 18-20 12-25 9-30 5-140 4-30-3-25-7-25-11-25-16-35-29-52-52-13-9-15-4-10 1-10 4-15 10-16 13-12 15-13 30-9 15-15 17-15 10-20 6-10 1-15-2-15-6-10-6-20-18-40-54-31-33-17-20-23-35-14-30-10-30-6-30-2-30 0-25 3-25 6-25 9-28 20-42 45-69 8-21 5-30 1-40-3-35 3-25 3-15 6-15 7-11 10-11 10-8 15-8 25-7 15 0 45 6 25 0 20-3 60-25 50-18 35-11 35-6 25-1 30 2 100 18 30 3 25 1 45-5 65-16 20-4 80-2z"/>
<path fill="#d7ff28" d="M1627 1235l53 0 35 3 100 24 60 17 40 6 50 10 55 4 20 3 27 8 25 20 13 6 40 2 60-7 40 1 35 6 95 24 65 10 45 2 35-2 30-9 75-29 20-4 25 1 25 5 25 8 60 32 25 8 105 11 20-1 50-7 25 0 20 3 27 10 24 15 10 10 2 5-1 5-6 10-12 15-11 10-13 8-25 10-40 7-20 6-10 5-30 20-45 16-40 20-35 13-30 17-30 25-15 10-20 10-60 21-35 23-20 11-33 13-87 22-15 6-30 14-30 8-45 14-15 8-20 18-15 10-15 7-20 6-45 8-70 5-70 10-25 0-45-6-15 0-15 3-45 17-25 7-30 4-80 8-25 6-40 12-25 3-25-2-25-7-20-11-35-25-20-8-15-3-15-1-25 3-10 4-10 7-13 13-7 10-4 15-2 30-3 20-8 20-13 20-15 14-20 13-20 9-20 5-35 4-65-1-60 2-25-1-25-6-25-10-30-19-35-29-50-48-15-10-15-4-10 1-15 7-30 23-10 14-20 40-10 13-10 9-10 6-15 6-10 1-15-1-15-4-10-5-20-16-15-18-29-40-33-35-16-20-13-20-13-25-8-20-8-25-5-25-2-25-1-25 3-25 8-40 16-40 19-35 34-50 10-20 4-15 1-15 1-50-2-35 2-25 4-15 8-17 10-13 11-10 19-11 25-6 15 0 40 7 40-3 15-4 50-20 55-19 35-9 30-5 25-1 25 2 26 4 74 17 30 3 25 1 25-1 25-4 65-17 20-4 75-1z"/>
<path fill="#e7ff18" d="M1092 1250l33-4 35 2 30 6 75 18 30 4 25 2 25-2 25-4 70-20 20-4 70 1 75-3 100 3 105 21 65 17 40 6 50 10 45 3 35 6 20 7 25 19 15 6 40 3 60-9 35 1 34 6 61 17 35 9 35 5 35 3 45 1 35-3 30-9 79-28 16-3 15 0 25 5 30 8 20 10 40 23 10 4 15 4 60 3 55 10 15-1 50-11 20-1 20 2 21 7 18 10 15 15 2 10-4 10-11 15-12 10-14 8-20 7-40 6-15 3-15 7-20 14-10 5-45 13-55 19-20 12-60 50-20 13-71 23-14 8-32 22-31 15-92 26-20 8-35 16-25 6-50 16-14 8-16 15-14 10-11 5-20 7-45 9-75 5-70 12-25 0-45-6-15 0-15 3-40 15-30 8-30 5-75 7-25 6-45 13-25 3-25-2-25-8-20-10-35-25-15-6-15-4-15-1-25 2-15 5-10 6-15 16-7 10-4 15-2 30-4 20-8 20-15 20-20 17-20 10-25 8-25 3-80-2-70 4-20-2-20-5-30-13-30-19-30-25-56-51-14-7-15-2-10 2-10 5-23 17-11 10-7 10-15 30-9 15-10 11-10 8-10 6-15 4-15 1-15-4-20-10-20-18-35-48-33-35-19-25-15-25-13-30-9-30-6-35-2-30 2-30 5-30 8-25 10-25 10-20 15-25 31-45 6-11 5-14 2-25 0-50-2-35 2-20 4-15 9-20 10-14 15-12 20-9 15-3 10-1 45 7 40-3 17-5 63-22 55-17z"/>
<path fill="#f7ff08" d="M1105 1255l25-2 30 3 25 5 75 22 30 4 30 2 25-1 25-4 70-22 20-4 75 2 70-2 100 6 105 15 55 15 50 7 45 10 45 3 35 6 20 6 35 22 15 4 40 3 50-9 35 0 35 7 55 17 30 7 35 6 35 4 50 0 40-4 30-8 85-28 15-3 10 1 29 5 32 10 19 9 35 22 20 8 65 1 20 3 30 9 15 2 10-1 35-12 15-4 20-1 20 2 20 7 16 10 8 10 3 10-3 10-11 15-13 10-20 9-15 3-50 6-15 6-25 15-20 6-45 8-35 0-12 2-8 7-12 23-15 20-30 30-18 13-20 8-50 12-15 6-11 6-34 25-30 15-85 27-55 23-75 22-15 9-20 18-10 7-15 7-15 4-55 11-65 3-50 10-25 3-25 0-45-6-15 1-55 20-25 6-30 5-75 7-25 6-45 13-25 3-25-2-25-8-20-10-30-21-20-10-25-4-15 0-15 2-15 5-10 6-18 18-6 10-4 10-2 35-5 20-9 20-11 15-15 13-20 12-25 9-25 4-25 0-60-4-70 5-20-2-20-5-30-13-30-19-30-24-45-41-15-12-15-5-15 1-10 3-10 6-30 24-9 13-21 39-10 12-10 9-10 5-15 5-15 0-15-3-20-10-18-17-33-45-33-35-19-25-14-25-13-30-9-30-6-35-1-30 2-30 5-30 8-25 10-25 11-20 15-25 31-45 9-20 3-25-3-90 2-20 4-15 9-20 10-12 15-11 20-9 14-3 11 0 30 6 15 1 35-4 15-4 55-18 75-20z"/>
<path fill="#fff700" d="M1087 1265l33-4 35 2 28 7 47 16 25 7 35 6 30 3 25-1 25-4 20-6 50-18 25-4 70 3 85 0 165 13 25 4 55 14 50 7 45 10 80 10 20 7 30 17 20 6 40 3 50-9 35 0 30 6 50 17 30 9 30 5 30 3 55 0 50-5 25-6 95-28 20-2 45 10 25 8 20 12 35 25 10 4 10 0 40-7 20 1 20 5 40 17 10 1 35-19 13-5 17-4 20 0 18 4 17 9 10 11 3 10-2 10-6 10-11 10-14 7-20 6-50 1-15 2-10 3-25 14-15 4-15 1-15-1-65-18-10 0-7 6-6 15-2 15 1 25-2 10-5 10-10 15-13 15-21 17-15 7-15 4-60 10-15 8-35 29-20 12-75 26-65 27-75 22-15 8-30 27-10 5-15 4-38 9-22 3-70 3-45 11-25 4-25 0-45-6-15 1-15 4-40 16-25 6-25 4-80 9-20 4-45 14-25 3-25-1-25-7-20-9-35-24-20-9-25-4-30 2-15 5-10 6-20 20-7 10-4 10-1 30-4 20-9 20-11 15-14 13-20 12-20 7-25 5-30 0-60-6-55 6-20 1-20-2-15-4-30-13-30-19-30-24-45-40-15-11-10-4-20-1-15 6-37 29-11 15-17 33-10 13-10 9-10 6-15 4-15 1-15-3-16-8-19-16-12-14-20-30-34-35-18-25-14-25-12-30-9-30-5-35-1-30 2-30 6-30 7-25 11-25 13-25 44-65 7-15 3-25-5-90 3-20 5-20 7-15 12-15 15-10 23-10 17-2 25 6 15 1 30-3 25-5 45-14zM2615 1513l-8 7-3 10 1 13 5 6 5-2 5-5 5-8 2-9 0-5-2-5-5-2z"/>
<path fill="#ffe700" d="M1102 1270l28-1 25 3 25 7 45 18 20 6 40 8 35 3 30 0 25-4 20-7 45-18 25-5 75 5 80 1 85 8 85 3 75 15 50 7 55 14 70 9 15 4 30 16 20 6 20 3 25-1 50-9 30 0 30 6 50 21 20 6 30 7 30 3 45 0 50-5 35-7 50-14 55-12 15-2 10 0 55 12 15 6 14 8 18 15 11 15 8 20 1 10-12 30-3 15-1 15 2 35-2 15-5 10-9 15-9 10-12 10-21 10-25 4-25-1-11-3-10-5-3-5-2-5 2-15 3-20 12-35 1-15-3-10-9-8-10-2-10 3-10 7-8 10-4 10-3 15 0 20 3 20 2 10 9 20 1 10-3 10-6 10-17 20-12 10-17 10-45 16-80 33-80 25-15 10-25 23-20 8-45 11-20 3-55 0-15 1-45 12-25 5-25 0-45-5-15 1-15 4-40 15-25 7-25 4-80 9-20 4-45 14-25 4-25-2-25-7-20-9-35-24-20-8-25-4-30 2-15 5-10 6-22 22-8 10-3 10-2 30-4 20-9 20-12 15-15 12-20 11-20 6-20 2-30 0-60-8-15 1-35 6-20 2-20-1-20-5-30-13-35-22-30-23-40-36-15-11-10-4-20-1-15 6-40 32-8 11-19 35-8 10-10 10-10 6-15 5-15 1-15-4-16-8-19-16-10-12-22-32-26-25-19-25-16-30-12-30-8-30-5-35-2-30 3-30 6-30 7-25 9-21 12-24 16-25 32-45 7-15 1-20-4-45-2-45 3-23 6-22 8-15 11-13 15-9 20-9 15-2 30 7 25-1 40-7 40-12zM2979 1410l16-4 15 0 15 3 10 5 8 6 6 10 1 10-4 10-10 10-7 5-12 5-12 2-15 1-23-3-17-5-8-5-3-5 0-5 7-15 14-15zM2822 1415l13-3 15 0 15 3 12 5 14 10 14 15 6 10 0 5-1 5-8 10-7 5-15 4-15-1-40-9-10-4-8-5-10-10-5-10 1-5 5-10 5-5z"/>
<path fill="#ffd700" d="M1088 1280l32-3 30 3 25 7 45 21 19 7 46 9 40 4 30 0 25-4 20-7 40-19 25-5 20 0 60 6 85 2 75 7 55-2 30 2 120 21 50 13 35 8 45 4 18 6 32 15 20 5 25-1 70-11 30 2 25 7 40 20 20 8 30 7 30 4 35 0 35-4 45-8 80-21 55-7 20 1 25 6 25 3 15 4 10 5 10 8 13 17 4 10 1 15-11 55 5 40 0 15-4 15-9 15-9 10-14 10-16 6-15 1-15-1-10-3-10-8-3-5-2-15 2-20 13-40 0-10-3-10-7-11-10-7-10-3-15 4-10 7-11 10-7 10-7 15-3 20 3 55-1 20-9 25-6 10-9 10-10 6-86 39-34 13-35 9-45 16-15 9-20 21-10 7-15 5-45 11-30 4-55-1-15 3-40 12-25 5-20 0-40-5-20 1-75 25-30 5-75 8-25 5-40 13-30 5-25-2-25-7-20-10-35-23-20-8-25-3-30 2-15 5-10 6-33 34-3 10-1 25-3 20-9 20-11 14-15 13-15 9-20 6-20 4-30-1-65-10-15 1-35 7-20 3-20-1-20-5-30-13-40-25-25-19-55-47-10-5-15-2-10 2-10 6-40 33-12 15-18 34-16 16-9 6-15 5-15 1-15-3-16-9-19-16-10-12-18-27-27-26-18-24-16-30-11-30-8-30-5-35-1-30 3-30 6-30 8-25 10-25 14-25 16-25 26-35 8-15 2-25-7-45-1-40 2-20 7-25 7-15 13-15 15-9 20-9 10-1 30 7 20 0 45-9 35-10 55-8zM2985 1415l15-4 10 0 10 2 10 5 8 7 4 10-2 10-3 5-12 11-15 5-20 0-20-6-6-5-3-5-1-5 2-10 8-10zM2835 1420l10-1 10 1 10 4 9 6 4 5 5 10 0 10-3 5-10 6-15 1-20-4-14-8-6-10 1-10 8-10z"/>
<path fill="#ffc700" d="M1116 1285l24 2 20 5 55 28 15 6 55 11 45 5 35 0 25-3 15-6 40-22 20-4 20 1 60 6 90 2 65 4 65-3 30 2 30 5 81 16 49 14 30 7 55 8 50 19 20 5 20-1 23-7 42-9 20-1 15 2 15 4 15 7 35 25 10 5 25 7 30 5 35 0 35-4 45-10 74-21 26-5 45-1 50 7 30 0 15 5 10 7 10 12 4 10 1 10 0 10-12 40-1 10 1 10 8 30 1 20-5 15-6 10-10 10-7 5-14 5-10 1-15-2-10-6-5-6-3-7-1-15 3-15 15-40 0-15-8-15-16-15-15-6-10 1-15 8-16 12-14 15-9 15-4 10-3 15 2 40-2 20-19 50-8 10-51 30-31 15-30 10-40 10-40 16-15 10-25 25-10 6-55 14-20 4-20 0-40-3-10 1-50 17-25 5-20 1-40-5-20 1-15 4-35 13-25 8-30 5-75 7-25 6-40 14-25 4-25-1-28-7-22-11-35-23-20-7-25-3-30 2-15 5-10 6-36 36-3 10 0 25-2 15-9 20-10 14-20 17-15 7-15 4-20 3-25-1-60-11-15-2-15 2-30 8-20 4-20-1-20-5-35-16-45-28-25-20-65-57-5 1-25 21-15 15-25 20-8 10-17 33-15 16-10 7-15 6-15 1-15-4-16-9-19-16-25-36-25-23-19-25-16-30-10-30-7-30-5-35-1-30 3-30 6-30 8-25 11-25 13-25 17-25 26-35 7-15 2-10-1-15-9-50-1-30 3-20 8-30 8-15 9-10 23-13 15-5 10 0 25 6 15 0 55-11 30-8 55-5 60-12zM2170 1604l-25 11-5 5-3 5-1 5 2 10 7 10 5 3 15 1 20-6 13-8 6-5 6-10 0-10-3-5-7-6-15-3zM2993 1420l12-3 10 1 6 2 7 5 6 10-2 10-4 5-8 6-15 4-15-3-10-5-4-7 1-10 8-10zM2837 1430l8-2 10 2 6 5 2 5 0 5-3 4-10 4-10-2-5-3-4-8 1-5z"/>
<path fill="#ffb700" d="M1105 1295l25 0 20 5 15 7 40 23 25 9 60 13 50 6 35 0 25-3 15-6 30-20 20-6 15 1 45 5 35 2 85-1 60 1 65-3 35 2 25 5 62 15 63 19 70 15 75 27 15 4 15-2 30-18 25-9 25-3 18 2 22 9 14 11 12 15 10 25 4 2 15 0 30 4 50 0 25-3 20-6 100-36 25-6 20-3 24 3 16 5 15 7 10 2 45-7 10 0 10 2 11 6 9 10 3 10 0 10-4 15-9 14-10 9-10 3-15-7-40-36-10-3-10 5-51 45-13 15-6 10-7 15-2 10 1 15 5 20-2 14-18 31-10 25-12 15-31 25-24 12-30 10-45 6-50 31-30 29-15 6-45 13-20 3-20 1-35-5-15 1-50 18-25 6-20 1-40-5-20 1-15 4-35 14-25 8-30 5-75 7-25 6-37 13-28 5-25-1-25-6-20-9-40-26-20-7-30-2-30 4-10 3-10 6-17 18-23 20-2 5 1 30-3 15-6 15-11 15-14 13-15 8-15 5-20 3-15 1-20-2-55-13-15-2-15 2-33 10-17 3-20 0-20-5-40-19-45-28-43-36-19-20-13-17-5-4-10 0-9 6-36 40-15 11-9 9-8 10-13 27-15 17-10 7-15 6-15 1-15-4-16-9-19-16-22-34-28-24-15-21-13-25-11-30-8-35-4-35 0-30 2-30 6-30 8-25 10-23 12-22 19-30 27-35 6-15 2-10-1-15-10-45-2-25 2-25 10-32 6-13 9-10 15-9 20-8 10 0 25 7 10-1 35-9 25-4 25-7 65-2zM2035 1444l-5 3-5 6-4 12 1 10 3 8 5 6 10 7 15 4 15-1 8-4 6-5 2-5 1-5-2-5-5-5-30-23-10-3zM2165 1574l-11 6-24 20-7 10-4 10 0 15 7 15 9 10 15 6 10 1 15-2 29-10 22-15 9-10 5-10 0-10-6-20-4-8-5-4-10-4-20-3-15 0zM2440 1500l-15 4-10 7-9 14-2 15 5 15 11 15 10 6 15 3 15-4 20-13 10-12 2-5 2-10-6-15-13-13-15-6zM2996 1430l9-4 10 0 6 4 3 5 0 5-3 5-6 4-5 2-10-1-7-5-2-5 1-5zM2698 1515l7 1 5 4 10 12 7 18 0 15-6 15-11 12-15 7-15-1-10-4-7-9-3-10 1-10 5-15 9-16 15-16z"/>
<path fill="#ffa700" d="M1109 1305l17 0 18 5 11 6 30 22 25 10 75 18 60 7 45 0 25-3 10-5 25-20 15-4 15 1 30 4 75 1 65-5 55 0 70-3 30 2 25 5 49 14 56 22 60 13 12 5 6 5 4 5 3 10-3 10-12 30-1 15 3 10 13 22 10 10 15 10 20 7 40 5 9 6 2 10-13 45-3 15 1 10 4 15 8 15 10 10 12 8 10 3 10 1 30-4 25-9 23-14 17-15 8-10 4-15 0-20 2-15 6-13 5-3 5 0 10 6 7 10 1 10 0 20 6 40 8 35 3 6 25-8 10-6 35-40 10-8 10-2 15 0 35 12 20 3 4 3 3 5 0 10-4 10-8 10-10 8-15 7-25 5-15 0-25-2-10 1-5 2-20 24-20 16-30 28-10 6-60 19-25 2-50-6-15 3-39 17-26 7-20 2-40-5-20 1-15 4-35 14-25 7-27 5-78 8-25 6-35 13-30 5-25-1-25-6-20-9-40-25-20-7-15-2-20 0-30 5-15 8-25 26-16 9-4 5-1 5 3 25-2 13-5 15-10 16-10 10-10 7-15 7-15 4-20 2-25-2-60-15-15-3-15 2-35 12-15 4-20-1-20-5-20-8-25-12-45-28-25-20-13-13-27-37-5-4-10-3-10 2-5 3-35 44-25 20-10 13-13 27-12 13-10 8-15 6-15 1-12-3-13-7-20-15-7-8-18-28-25-20-17-22-12-25-10-30-6-30-4-35-1-30 2-30 5-30 8-26 10-24 13-25 20-30 26-35 6-15 2-10 0-15-13-45-3-25 3-25 11-29 5-11 8-10 8-5 19-7 10-1 25 7 10 0 10-3 30-12 50-9 15-1 35 3 20-1 20-2zM2187 1395l23-4 20 4 18 10 11 15 3 15-2 25 3 30-1 15-5 15-4 5-8 4-30 7-20 1-15-5-15-7-6-5-7-10-5-15-4-20 0-15 2-10 12-30 6-10 12-10zM2537 1410l28-4 20 3 10 6 5 5 2 10-4 15-12 15-16 15-30 24-15 8-10 0-10-3-30-17-17-7-7-5-3-5 0-5 2-5 10-10 41-25 21-10zM2688 1420l7-1 10 3 5 4 5 9 0 8-2 7-4 5-9 6-10 0-10-5-6-6-4-10 2-10 5-5zM2690 1540l10-1 10 5 6 11 1 10-2 10-7 10-8 6-10 1-9-2-6-5-3-5-2-10 5-15 5-7z"/>
<path fill="#ff9700" d="M1105 1320l20-2 6 2 8 5 12 15 6 20-2 5-25 2-15 4-15 12-14 17-9 15 0 5 2 5 8 5 18 4 10 0 10-2 10-6 7-6 7-10 5-10 4-15 1-15 6-3 55 1 70 15 45 4 45 1 25-2 15-3 10-4 25-17 15-3 45 3 65-1 80-8 105-4 40 2 35 9 39 15 41 21 52 14 11 5 6 5 4 5 2 10-4 25 1 15 3 12 5 13 12 20 28 34 10 9 18 12 7 8 4 12-1 20 2 10 18 30 8 10 11 10 18 9 15 3 15-2 35-7 20-8 45-33 10-4 5 1 5 4 9 17 4 15-2 25 1 5 3 5 10 4 15-5 5 1 3 5-1 5-24 30-8 8-35 17-35 13-15 3-15 0-40-7-15 0-15 4-40 19-20 6-20 2-40-5-20 2-15 4-35 14-20 6-30 5-80 8-25 7-35 13-15 3-30 2-30-6-25-10-35-23-20-8-25-2-40 4-10 3-10 6-21 22-9 8-15 4-5 3-1 5 5 25-1 15-7 20-11 14-10 9-15 8-15 5-15 2-20 0-20-3-70-19-15 2-35 13-15 4-20 0-20-5-50-23-40-24-34-28-10-15-12-20-8-10-11-5-10-1-10 4-9 7-28 40-29 25-7 10-12 26-10 12-10 7-15 6-15 1-10-2-9-5-26-18-22-32-23-17-15-18-10-20-11-30-7-35-5-35-1-35 2-30 6-30 7-25 9-22 12-23 19-30 29-40 8-20 1-10-1-15-13-35-5-20 0-20 5-18 15-32 8-10 17-6 10 0 6 1 7 5 3 5 5 65 4 16 10 12 10 7 15 5 10 0 6-5 1-10-9-35-15-40-3-10 2-10 10-10 18-10 50-9 15 0 40 7 25 1 20-2zM2188 1405l17-5 15 1 15 7 10 12 4 15 0 10-4 15-7 15-8 8-5 3-15 2-20-6-10-5-10-12-4-15 2-20 8-15zM2544 1415l11-1 11 1 12 5 4 5 2 5 0 10-8 15-10 10-11 8-25 10-15 1-10-4-8-5-7-8-2-7 0-5 6-10 10-10 14-10 12-6zM2688 1560l7-3 5 2 5 6-1 10-3 5-6 3-5 0-5-3-2-5 1-10zM2425 1660l15-2 8 2 4 5-3 5-4 2-15 1-7-3-2-5z"/>
<path fill="#ff8700" d="M967 1330l18-1 15 3 40 13 11 5 7 5 3 5 0 10-4 10-8 10-12 10-52 27-10 2-10 0-15-5-10-8-5-6-10-16-11-24-1-15 5-10 12-8zM825 1360l10-1 5 2 5 6 8 28 7 45 10 20 10 11 15 10 15 6 15 3 15-3 30-16 10-4 10-1 35 0 40-8 50-2 15-4 16-7 15-10 43-35 16-6 15-1 60 7 85 1 25-3 15-3 35-16 15-4 55 1 50-1 25-2 65-10 80-4 40 1 30 5 45 16 19 9 36 22 40 12 15 10 6 11 7 35 4 15 12 25 15 25 7 30 16 20 14 25 7 10 17 16 20 24 15 13 15 9 10 4 10 1 15-2 55-14 45-28 10-3 5 0 7 5 6 10 3 35 4 8 10 12 3 5 0 5-4 10-9 7-19 8-24 15-27 10-25 1-45-10-15 1-15 6-31 17-24 9-20 2-40-4-20 1-15 4-35 15-20 6-30 5-55 4-25 4-25 6-35 14-20 4-30 0-25-5-25-11-35-22-20-7-25-2-40 4-10 3-10 5-22 25-8 6-5 1-15-1-5 4-2 5 0 5 7 17 2 13-2 12-5 13-10 14-15 12-15 7-20 4-20 1-18-3-67-19-15-3-15 4-35 13-15 3-15 0-20-6-55-23-35-21-30-25-9-13-12-25-9-10-10-6-15-2-15 5-10 10-25 38-25 22-7 8-6 10-9 20-8 11-10 8-14 6-11 2-10-2-10-5-10-9-15-8-27-33-23-15-14-20-11-25-8-30-6-35-3-40 0-30 3-30 5-25 8-25 11-24 11-21 27-40 20-25 8-20 2-15-2-10-20-45-3-20 2-13 5-13 15-24zM2193 1415l12-5 10 1 10 4 6 5 5 10 1 10-5 15-7 7-10 4-10-1-10-3-10-8-4-9 0-10 3-10zM2537 1425l13-2 11 2 6 5 2 5-2 10-7 10-10 7-15 4-10-1-5-3-5-5-1-7 1-5 7-10z"/>
<path fill="#ff7800" d="M942 1345l28-5 15 2 12 3 10 5 14 10 4 6 1 9-10 10-21 11-20 4-15-2-15-10-7-8-5-10-2-10 1-5 3-5zM1709 1370l61 0 25 3 25 6 20 7 21 9 54 32 25 8 10 4 10 9 7 12 14 45 21 45 3 28 13 22 3 20 7 10 33 25 21 20 13 10 25 17 15 6 15 0 35-12 30-6 10-5 35-22 10-2 5 2 6 7 5 30 10 25-1 10-5 5-15 7-24 18-26 10-15 2-15-1-40-13-15-1-15 7-32 21-26 10-17 2-40-4-20 1-15 5-35 14-20 7-30 5-55 3-25 4-25 7-35 14-15 3-30 1-15-2-15-4-25-10-35-22-20-7-25-2-40 4-10 3-10 6-10 9-14 18-6 4-7 1-13-6-5 2-4 4-2 5-1 10 8 15 3 15-1 10-4 10-9 14-15 12-15 7-20 4-15 0-20-3-80-21-15 1-55 16-20-1-25-8-55-23-15-8-20-14-12-11-8-9-20-41-10-10-15-6-10-1-10 3-15 10-10 13-20 32-31 29-7 10-7 20-5 8-10 8-15 7-15 1-7-4-3-5 3-10-1-5-2-2-20 3-10-4-22-22-24-15-14-20-7-15-6-20-8-45-5-60 3-45 9-40 16-40 23-38 15-21 21-26 12-25 2-15-2-10-23-32-6-13-2-10 2-15 5-10 6-9 10-9 5-2 5 0 5 4 7 11 5 20 5 45 7 15 11 10 17 10 23 10 15 3 17-3 38-16 15-4 30-3 45-10 45-3 15-2 28-12 57-27 20-6 15-2 45-2 95-6 30-6 35-13 15-3 70 0 40-2 25-3 60-11zM2202 1425l8-2 5 1 7 6 1 10-3 5-5 4-10 0-6-4-3-5 0-5 1-5zM2541 1440l4-3 3 3-3 3z"/>
<path fill="#ff6800" d="M1693 1380l32-2 30 1 30 3 25 6 40 14 20 11 36 22 29 10 10 6 10 9 5 10 14 40 14 35 7 35 8 20 1 20 4 10 49 45 38 23 35 25 10 3 5-1 35-20 15-5 25-5 30-17 15-5 5 2 5 8 11 32 1 10-1 5-5 5-31 25-10 5-15 6-15 1-20-3-15-6-25-14-10-3-10 6-35 30-14 8-16 6-15 2-40-4-20 1-15 5-35 15-20 6-30 5-55 4-25 3-25 7-35 14-15 3-30 1-15-1-15-4-25-11-35-22-20-6-25-1-45 5-10 4-10 7-16 21-9 8-5 1-6-4-4-4-5-2-5 1-6 5-4 6-2 9 1 5 9 15 3 10 0 10-3 10-8 13-13 12-17 8-15 3-15 0-20-3-65-17-20-3-20 1-45 11-15 1-25-6-45-14-34-16-27-20-11-15-12-30-6-10-15-14-15-6-10-1-10 3-10 6-10 8-11 14-19 30-28 25-8 10-14 31-5 5-10 5-5 1-7-2-6-10-7-6-10-2-15 0-10-3-24-19-18-10-8-10-6-10-8-20-5-20-8-60-2-60 2-25 5-25 14-40 21-40 26-35 36-42 10-8 5-1 10 0 50 17 10 2 10-1 15-4 30-15 15-5 75-15 55-4 65-22 60-16 55-5 95-14 25-5 45-12 110-4 25-4 60-13zM1180 1822l-8 8-2 10 5 10 5 3 10 1 5-2 6-7 3-10-1-5-3-5-5-3-5-1zM815 1400l5-2 5 0 4 2 6 8 2 7 2 15-1 10-3 8-5 5-5 0-10-5-10-12-2-6-1-10 3-9z"/>
<path fill="#ff5800" d="M1686 1390l29-2 30 0 30 4 30 7 40 13 55 31 30 11 10 6 6 5 6 10 26 70 15 75 4 10 8 12 41 43 9 6 20 8 15 7 12 9 9 10 5 10 0 10-4 10-8 10-19 16-10 6-15 5-15 1-35-4-20 2-20 7-35 15-15 5-30 5-55 3-25 3-25 6-35 15-20 4-30 0-25-5-22-9-33-21-20-7-25-2-50 6-10 4-10 7-18 23-7 6-5 1-10-10-5-1-10 2-5 5-4 7-2 10 3 10 8 10 4 10-1 10-3 10-10 13-10 8-15 6-15 3-15 0-15-3-60-14-25-5-20 0-45 7-20-1-45-9-35-10-25-11-20-16-10-13-13-35-10-15-17-14-10-5-10-2-10 2-10 4-19 15-36 48-34 27-5 5-7 20-4 7-5 3-5 0-25-7-25-4-42-24-12-15-7-15-6-20-4-25-3-35-2-70 1-25 5-25 14-40 10-20 12-20 29-35 25-23 10-7 10-3 10 0 45 12 20 1 20-6 35-17 15-5 65-14 60-7 50-13 41-8 34-8 20-3 45-3 45-12 110-20 85-4 30-3zM1180 1813l-10 6-5 6-3 10 0 10 5 10 8 9 5 2 10 1 10-5 10-12 5-15-1-10-4-8-10-6-10 0zM815 1415l5 0 5 5 0 10-5 4-5-1-6-8 1-5zM2244 1690l11-4 10 1 5 5 5 8 5 15-1 10-4 5-26 25-20 10-14 2-10 0-10-2-11-5-8-5-9-10-3-10 1-5 2-5 11-10 17-9 28-6z"/>
<path fill="#ff4800" d="M1684 1400l26-3 25 0 30 4 35 8 45 15 50 26 30 12 10 6 6 7 4 7 11 33 14 35 11 60 8 25 7 10 24 29 20 21 10 6 20 6 10 4 10 7 7 7 5 10 1 10-3 10-6 10-14 12-20 9-15 1-30-3-20 1-20 6-35 17-20 6-30 5-55 2-25 3-25 7-40 16-20 3-25 0-25-5-23-10-32-20-20-7-25-1-50 7-10 3-10 7-6 6-14 20-5 5-5 0-10-11-5-2-10 1-8 7-6 10-2 10 4 10 12 17 1 8-3 10-8 12-10 8-10 5-15 3-25-1-52-12-33-6-20-1-50 1-40-9-50-3-25-7-18-10-16-15-8-15-10-30-13-19-20-15-10-5-10-2-10 2-10 4-20 15-14 15-27 35-14 11-25 13-8 6-3 5-3 15-6 7-5 2-10 0-30-7-38-17-5-5-7-10-6-15-4-15-5-44-4-91 1-25 5-25 6-20 8-20 10-20 13-20 26-28 30-20 10-4 10-2 10 1 35 9 15 1 15-2 20-6 25-15 15-6 56-13 69-10 45-11 50-7 40-9 55-3 40-13 25-5 100-15 80-5 30-3zM1200 1800l-15 3-15 7-11 10-5 15 1 15 5 13 10 12 10 8 5 1 10-1 10-9 12-19 7-20 1-15-5-15-5-3zM1240 1763l-4 2-1 5 5 1 1-1 2-5zM2239 1700l11-3 10 0 5 3 7 10 1 5-3 10-23 25-17 10-15 2-17-2-10-5-6-5-3-5-3-10 4-10 4-5 16-10z"/>
<path fill="#ff3800" d="M1684 1410l21-4 25 1 30 4 35 8 50 16 45 23 38 17 7 10 12 35 13 30 5 20 5 40 5 15 7 15 29 40 19 20 15 9 25 7 7 4 8 7 5 8 2 10-2 10-7 10-13 10-15 5-15 1-30-2-20 2-20 8-32 16-18 6-30 4-75 4-30 7-40 15-25 4-24 0-26-7-15-6-35-21-20-6-20-1-55 7-15 6-10 8-15 23-5 5-5 0-5-7-10-7-10 0-10 7-9 14-1 10 2 10 13 14 3 6-1 10-6 10-6 6-10 6-15 4-25-1-40-9-40-6-65-3-15-4-10-8-3-10 1-10 18-45 8-40 4-10 10-15 4-10 0-5-2-6-5-4-5-1-10 2-6 4-8 10-11 18-40 18-13 9-7 8-5 12-1 15 3 15 10 25 0 5-2 5-10 5-10 1-15-1-15-4-10-7-10-9-7-10-12-40-10-15-11-11-15-11-15-7-10-2-15 4-20 12-17 15-35 40-13 10-30 17-7 8-8 20-5 6-5 2-13-3-47-15-9-5-7-10-7-20-3-25-5-120 3-40 10-35 20-40 8-12 10-11 10-8 15-10 15-6 20-5 50 5 35-2 20-7 30-19 57-15 68-12 40-9 55-6 45-9 55-4 35-12 25-6 60-5 65-9 55-3 30-3 25-6zM2222 1710l23-4 10 2 5 3 2 4-1 5-4 10-7 10-15 12-10 4-10 1-15-3-11-9-2-5 0-10 7-10 6-4z"/>
<path fill="#ff2800" d="M1687 1420l23-4 20 1 40 8 45 11 40 15 56 29 7 5 7 10 25 55 5 20 4 40 5 15 10 20 26 38 20 22 15 9 30 9 10 7 4 5 3 10-2 8-4 7-11 9-15 5-40-2-20 3-15 6-35 19-20 7-30 4-55 1-20 2-25 5-45 16-35 5-15-1-30-8-13-6-27-16-20-7-25-1-55 7-15 6-10 7-7 9-8 15-5 6-5 1-5-9-5-6-10-3-10 2-9 9-9 15-3 15 5 10 11 10 4 5 0 5-5 10-14 10-10 3-15 1-55-12-45-3-40-1-15-2-10-5-7-6-3-10 1-15 15-40 12-40 18-35 4-22 1-3 24-14 7-6 7-10 3-10 0-10-4-5-8-1-15 6-10 10-7 15-4 20-4 3-20 4-15 7-13 11-20 20-47 28-8 7-6 10-3 10 0 15 4 30-2 7-5 5-5 2-10 0-10-3-8-6-10-15-11-40-9-15-18-15-19-13-15-5-10-1-20 5-22 14-48 47-45 29-10 12-10 18-5 4-15 0-40-9-5-3-5-8-6-15-2-20 0-65-5-70 2-35 10-35 16-32 15-21 20-13 20-6 25 1 30-4 60-2 15-5 25-17 13-6 37-11 50-13 60-12 60-7 50-9 50-4 35-11 20-5 85-3 50-10 50-2 35-4 30-7zM1340 1630l-10 5-7 10-4 15-1 10 2 4 10-1 10-6 8-7 6-10 1-10-1-5-4-5zM2220 1715l15-1 10 3 3 3 1 5-1 5-6 10-12 9-10 3-13-2-8-5-3-5 0-10 3-5 6-5z"/>
<path fill="#ff1800" d="M1693 1430l17-3 15 1 95 21 35 14 22 12 23 15 13 15 27 49 5 21 0 25 1 10 8 20 12 20 29 44 20 21 15 9 25 5 11 6 4 5 0 5-3 10-7 6-10 3-10 1-25-2-20 3-15 6-45 26-15 5-30 4-55 0-20 1-20 4-45 14-15 2-35 3-25-4-20-7-35-18-20-5-15 0-35 6-25 2-15 5-10 7-8 8-12 23-5 2-4-10-4-5-7-5-5-1-10 2-10 8-14 21-5 15 2 10 2 3 16 12 1 5-3 5-9 6-10 3-10 0-35-9-15-2-85 0-20-3-9-5-6-10-1-10 3-15 16-35 12-36 4-9 30-45 23-25 38-49 7-11 16-40 2-10-2-5-3-4-5-2-5 0-40 30-50 58-20 27-10 10-88 66-38 10-9 5-3 5-2 10 5 25 0 15-2 5-3 3-5-3-5-11-2-14 1-20-2-5-4-5-7-5-31-15-20-12-15-4-15-2-20 5-25 14-45 40-50 31-10 11-11 17-9 7-15 2-25-3-5-3-5-6-4-12-1-10 4-50 0-25-8-65 0-35 5-25 11-25 18-30 5-6 10-7 10-4 15-3 30 0 40-5 40 2 15-1 10-3 35-19 90-33 55-12 50-6 65-12 45-5 50-13 20-1 20 2 30 5 25 9 5 0 21-18 14-6 20-3 60-2 30-4 20-6zM1615 1583l-5 2-4 5-1 5 3 5 7 5 30 12 10 1 5-3 1-5-2-5-11-10-18-10zM2220 1720l10 0 5 3 3 2 1 5-2 5-7 8-5 2-10 1-5-2-5-4-2-5 1-5 6-6z"/>
<path fill="#ff0800" d="M1693 1445l12-4 10-1 45 10 60 11 20 6 15 8 28 20 32 40 9 15 6 20 1 40 4 15 30 42 42 63 4 10-2 5-69 46-15 7-20 3-25 1-60-1-15 2-45 13-15 2-15-2-20-8-15 8-15 3-20-4-35-17-20-6-20 0-35 8-30 3-15 6-10 7-8 9-7 16-5-2-5-8-10-8-10-1-10 6-26 32-14 28-5 5-10 1-20-1-45 7-40 3-15-1-10-2-7-5-4-5-2-5 1-10 5-15 16-30 12-30 39-60 23-25 37-50 12-20 14-30 3-15-5-10-9-6-15-1-19 7-21 16-20 25-30 27-20 31-35 28-17 18-8 4-25 9-20 3-25-11-10-2-10 1-10 6-20 17-15 6-10 0-30-8-15-2-15 2-15 3-30 16-30 24-15 10-57 27-11 10-12 21-10 8-15 2-5-1-6-5-1-5 0-10 9-30 1-30-4-25-14-55-2-20 2-20 5-22 10-22 19-26 11-8 20-6 30-1 40-4 45 5 20-1 35-14 35-7 26-9 14-7 25-16 40-17 60-7 60-13 45-6 50-11 25 0 24 7 16 10 15 18 5 4 10 4 15 0 10-6 2-20 3-10 5-7 10-6 20-4 65 1 30-3 20-7zM1825 1625l-15 5-5 5-2 5 1 10 4 5 7 4 8 1 7-3 7-7 3-5 1-10-3-5-8-5zM1605 1554l-15 10-13 16-4 10 0 5 7 14 13 11 57 34 15 3 9-2 6-4 9-11 2-5 0-10-5-15-11-18-20-22-15-12-15-5-10-1zM2214 1730l6-3 5 0 3 3 0 5-8 4-5-2-2-2z"/>
<path fill="#f70000" d="M1697 1465l13-4 10 0 30 6 40 1 25 4 15 4 15 7 11 7 11 10 22 30 15 15 5 10 2 15 1 25-2 8-4 7-6 4-10 1-10-3-30-17-15-2-10 1-24 11-24 15-9 10-3 10 7 10 22 20 16 10 10 2 15-5 35-26 15-8 25-3 10 2 10 5 15 11 14 17 18 30 7 15 2 15-2 10-7 10-10 10-19 15-16 10-12 4-15 3-25 0-60-4-20 4-35 9-15 2-10-1-25-13-10-2-9 3-17 10-14 2-15-4-30-14-20-3-15 2-35 9-25 1-10 2-15 6-20 17-5 0-10-11-5-3-5 1-15 9-25 31-15 13-10 7-30 6-45 15-40 5-15-2-6-4-3-10 1-10 5-10 33-52 20-28 17-30 23-29 47-66 25-45 5-15 2-15-4-6-20-3-15 0-15 3-20 7-15 8-15 14-17 22-24 15-9 7-5 8-10 25-10 6-30 11-20 16-10 0-20-6-10-1-15 1-15 4-25 10-25 18-15 8-15 2-40 0-15 3-15 4-29 14-36 24-20 7-15 3-15 0-10-2-12-7-13-13-20-28-7-14-6-15-4-15-1-20 3-20 4-15 8-15 8-10 15-15 10-6 20-4 60-2 50 10 25-1 40-13 75-16 27-18 22-20 11-5 115-26 75-15 15-2 25 3 20 9 10 11 15 29 5 2 30-7 15-8 5-6 5-20 5-10 5-5 10-4 20-2 36 6 20 5 22 10 4 5-4 5-38 25-36 35-9 15-1 5 1 4 5 6 21 15 37 20 32 23 15 6 10 1 10-2 18-8 20-15 9-10 2-10-2-5-6-10-30-35-26-42-20-23 3-5 36-30z"/>
<path fill="#e70000" d="M1773 1485l22-2 15 1 15 4 15 8 10 9 10 15 6 20-1 11-4 4-6 2-25 6-30 22-25 8-20 4-20 2-15-4-15-7-10-10-5-13-6-40 2-10 4-8 10-10 15-7 35-2zM1519 1505l6-3 10-2 20 4 11 6 5 5 2 5 1 5-8 15-11 13-20 16-25 14-5 5-4 7-1 5 1 5 11 30 3 6 5 4 35 3 25 7 15 8 35 26 15 5 10 1 10-3 50-26 15-5 10 0 10 2 15 5 15 9 25 19 10 5 5 1 10-3 35-27 15-8 20-5 20 1 15 6 10 8 10 13 8 13 7 15 3 10-1 15-4 10-11 15-18 15-14 7-20 5-30-1-45-7-10 0-15 2-35 11-15 1-15-2-24-11-11-3-15 1-20 8-10 2-10-2-25-10-20-2-20 2-35 11-35 3-10 3-20 9-5 1-5-4-5-9-5-3-5-1-5 1-10 7-10 12-15 25-5 6-10 6-15 6-25-2-10 1-10 4-24 18-11 5-30 7-10 0-5-1-3-6 0-5 5-10 52-60 21-45 35-55 37-45 26-35 12-30 10-15 10-12 20-15 10-11 4-7 6-20zM1349 1510l26-3 20 5 10 6 7 7 3 5-1 10-9 10-8 5-47 18-15 7-12 10-23 25-15 8-25 7-25 26-50 20-30 6-30 11-15 8-45 28-15 5-35 3-20 4-20 8-65 29-20 4-10-1-10-3-15-9-35-28-8-11-5-10-5-15-1-15 1-15 4-15 5-10 9-13 15-14 10-5 20-4 45 1 15 2 30 10 20 5 15 2 15-2 40-16 60-14 55-21 25-24 23-12 42-13z"/>
<path fill="#d70000" d="M1779 1505l26-4 10 1 8 3 7 5 4 5 2 10-2 5-5 5-20 10-19 16-9 4-36 4-15-1-7-3-4-5 0-15 3-10 8-10 19-10zM1522 1515l8-2 11 2 6 5 2 5 1 5-4 10-6 7-10 6-10 2-5-1-3-4 0-20 0-5 3-5zM1353 1520l17-1 10 4 6 7 1 5-2 5-12 10-33 13-15 8-10 9-19 20-7 5-9 4-35 8-25 9-7 4-14 15-14 11-15 6-35 9-15 5-15 9-30 23-15 7-15 3-35 5-65 28-35 11-15 2-15-2-10-4-35-22-12-11-9-15-2-10-2-15 2-15 3-10 5-10 8-10 12-10 10-4 15-3 25 2 20 5 38 15 42 11 15 0 45-24 55-13 35-15 35-12 11-7 24-22 25-13 30-10zM1471 1590l9-4 5 1 4 8 4 75-3 5-20 2-7 3-4 5-1 5 1 10 4 10 7 8 5 4 5 1 5-2 4-6 3-10 1-25 2-5 45-2 20 2 20 7 19 13 43 40 11 15 0 5-4 5-4 2-45 6-43 17-12 3-30 0-25 4-5 0-15-14-5-2-10 1-10 5-10 10-9 13-11 24-5 6-10 3-10 0-10-5-11-8-11-10-4-5-3-15 1-10 4-15 21-45 13-20 20-18 27-17 5-5 16-35 6-30zM1885 1675l10-3 15-1 10 1 10 4 16 14 6 10 7 15 3 10 0 10-2 10-5 10-15 17-10 7-10 4-20 3-25-1-19-5-26-11-10-3-5 1-24 13-16 6-15 3-10 0-10-3-30-12-28-9-11-5-4-5 2-30 7-15 9-10 13-10 22-12 10-2 15 0 10 2 15 7 14 10 10 10 26 31 5-4 12-17 18-20 15-12z"/>
<path fill="#c70000" d="M1266 1555l24-1 5 2 4 4-2 10-10 15-12 9-15 3-15-1-13-6-2-5 0-5 6-10 14-10zM1152 1615l8-2 10 0 6 2 4 3 2 7 0 5-6 10-11 7-10 3-15-1-11-4-3-5 5-10 11-10zM850 1635l15-2 20 3 19 9 21 16 30 4 15 6 13 9 7 10 3 10-3 10-9 10-13 10-18 9-15 5-25 4-15 1-15-2-20-9-20-12-10-10-6-11-3-15 1-20 5-15 8-11 5-4zM1061 1650l19 0 11 5 1 5-1 5-5 10-13 15-13 8-15 1-10-3-6-6-1-5 0-5 4-10 13-13zM1888 1685l17-4 10 1 10 4 10 7 6 7 10 20 2 10-1 10-6 15-15 15-16 8-20 2-25-5-11-5-7-5-6-10-2-10 1-10 9-20 16-19zM1721 1690l9-3 10 0 15 3 15 8 13 12 9 15 5 20-4 15-9 10-9 5-10 3-10 2-10-1-25-10-15-8-7-6-4-5-4-10-1-10 2-10 9-15 10-9zM1532 1700l18 1 10 3 10 6 5 5 7 10 4 15-1 10-6 10-19 15-15 5-15 0-23-5-6-5-2-5 1-5 12-25 3-25 5-6zM1415 1705l10-1 5 1 10 8 10 17 3 15-4 10-29 30-15 24-5 4-5 0-10-8-5-10-3-15 2-15 7-25 6-15 13-15z"/>
<path fill="#b70000" d="M851 1645l14-1 15 4 11 7 19 16 10 6 25 1 15 6 6 6 4 10-1 10-3 5-11 10-10 5-15 4-20 2-15 0-15-3-15-6-14-7-6-5-8-10-4-10-1-10 3-20 4-10 6-7zM1890 1695l15-3 15 3 12 10 9 15 2 15-4 15-9 11-15 9-15 3-20-4-14-9-6-10-1-15 6-15 11-15zM1727 1700l13-2 15 3 13 9 8 10 6 15 0 10-3 10-9 9-15 6-15-1-20-9-11-10-3-5-3-10 2-15 10-13zM1410 1730l5-3 5 0 5 3 3 5 0 5-3 7-5 5-5 2-5-1-4-8 1-10zM1540 1750l5-1 2 1 1 5-3 4-5 0-2-4z"/>
<path fill="#a70000" d="M853 1665l7-4 10 1 10 5 20 16 10 4 33 3 7 5 3 5-2 10-3 5-8 5-10 3-10 0-35-5-25-8-7-5-6-10 1-15zM1896 1705l9-2 5 1 10 5 9 11 3 10-1 10-6 13-9 7-11 3-10 0-10-3-6-5-6-10 0-10 5-15 10-10zM1735 1710l10 0 10 4 7 6 6 10 1 10-1 5-6 10-7 4-10 1-15-5-7-5-6-10-1-10 4-10 5-5z"/>
<path fill="#970000" d="M1904 1720l6 1 4 4 4 10-3 10-8 5-7 0-9-5-2-10 4-10 7-4zM1738 1725l7 0 7 5 2 5 0 5-4 6-5 2-5 0-6-3-3-5-1-5 1-5z"/>
</g>
<path fill="#fff" fill-rule="evenodd" d="M104 195H707V438H104ZM150.6 295L150.6 287L155 284L155.4 271L160 264L169 259L170 254L176 249.4L187 249.4L191 254L205 257.4L209 262L232 262L240 266L243 264L250 264L265 256L275 253L277 250L285 245L290 242L290 237L293 235L300 235L318 235L322 231L326 228.6L333 225L340 225L345 228.6L350 230.6L359 232L362 230L365.6 230L365.6 233L363.6 236L367 242L368.4 249L372 252L375 249L376 244L379 242.6L383 243.4L386.4 241L388 235L387.6 227.4L390 228.6L395 235L402 244L410 253L420 264L428 269L438 280L445 282L452 289L465 290L475 292L477 287L482 287L485 290L490 287L491 284L494 286L501 287L506 283L506 279L502 276L502 270L507 269L518 268.4L520 270L529 266.4L543 266L544 262L547 262L551 266L563 267L568 268L572 271L580 269L585 269L587 266.6L590 269L606 269L608 266.6L615 266.6L616 270L624 275L628 276.4L639 276.4L641 274L649 274L651 272L655 272L657 270L663 270L666 266.6L669 266.6L671 269L683 269L685 271L689.6 271L689.6 273.6L685 273.6L680 278L677 282L664 283L661 285.6L658 283L640 283L638 285.6L631 286L626 290L625 296L618 303L612 303L608 306L602 306L599 309.6L592 310L583 316L577 320L575 324L571 327L567 324L555 323L547 326L539 328L535 331L530 334L525 339L524 341L513 343L505 346L494 348L492 352L485 356L479 355L471 355L465 358L455 357L454 357L444 360L438 364.4L430 360L418 359L413 357L406 360L401 364L399 370L396 365L392 362L386 364L378 365L369 369L363 370L360.4 366L360 358L354 353.6L350 351.6L347 355L345 361L347 365L354 371L359 378L359 382.4L354 382L350 378L340 375L330 371L316 373L314 375L300 375L291 378L283 381L273 385L265 388L253 391L245 397L240 397L231 388L207 388L206 389.6L191 389.6L178 390.4L176 392.3L166 392.3L164 390.8L158 390.8L154.5 393.5L150.4 397.6L147.6 398L143.5 402.3L141.5 402.3L138.7 404.8L137.5 407.4L134 407.2L132.5 404.6L135.3 402.2L142 396L147.6 390.6L151 385.8L155 379L159.3 373.4L164 366L167 356L166 345L168 343L168 338L166 337L165 334L161 322L158 312L153 300Z"/>
<path d="M596.8 214.8L606.6 214.8L604.6 217.8L599 217.8Z" fill="#00008f"/>
<g stroke="#262626" stroke-width="1" fill="none" shape-rendering="crispEdges">
<rect x="102.5" y="193.5" width="606" height="246"/>
<path d="M135.5 439.5 v-6.5 M135.5 193.5 v6.5 M219.5 439.5 v-6.5 M219.5 193.5 v6.5 M302.5 439.5 v-6.5 M302.5 193.5 v6.5 M386.5 439.5 v-6.5 M386.5 193.5 v6.5 M470.5 439.5 v-6.5 M470.5 193.5 v6.5 M553.5 439.5 v-6.5 M553.5 193.5 v6.5 M637.5 439.5 v-6.5 M637.5 193.5 v6.5 M102.5 281.5 h6.5 M708.5 281.5 h-6.5 M102.5 369.5 h6.5 M708.5 369.5 h-6.5"/>
</g>
<rect x="726.5" y="193.5" width="32" height="246" fill="url(#jet)" stroke="#262626" stroke-width="1" shape-rendering="crispEdges"/>
<path stroke="#262626" stroke-width="1" shape-rendering="crispEdges" d="M758.5 366.5 h-2.5 M758.5 324.5 h-2.5 M758.5 281.5 h-2.5 M758.5 239.5 h-2.5"/>
<g font-family="'Liberation Sans', Arial, sans-serif" fill="#262626">
<text transform="translate(135.2 468.7) scale(1 1.045)" font-size="20.8" text-anchor="middle">-64.9</text>
<text transform="translate(218.9 468.7) scale(1 1.045)" font-size="20.8" text-anchor="middle">-64.85</text>
<text transform="translate(302.5 468.7) scale(1 1.045)" font-size="20.8" text-anchor="middle">-64.8</text>
<text transform="translate(386.2 468.7) scale(1 1.045)" font-size="20.8" text-anchor="middle">-64.75</text>
<text transform="translate(469.9 468.7) scale(1 1.045)" font-size="20.8" text-anchor="middle">-64.7</text>
<text transform="translate(553.5 468.7) scale(1 1.045)" font-size="20.8" text-anchor="middle">-64.65</text>
<text transform="translate(637.2 468.7) scale(1 1.045)" font-size="20.8" text-anchor="middle">-64.6</text>
<text transform="translate(93.7 202.1) scale(1 1.045)" font-size="20.8" text-anchor="end">17.8</text>
<text transform="translate(93.7 290.1) scale(1 1.045)" font-size="20.8" text-anchor="end">17.75</text>
<text transform="translate(93.7 378.1) scale(1 1.045)" font-size="20.8" text-anchor="end">17.7</text>
<text transform="translate(766.6 417.1) scale(1 1.045)" font-size="20.8" text-anchor="start">1</text>
<text transform="translate(766.6 374.5) scale(1 1.045)" font-size="20.8" text-anchor="start">2</text>
<text transform="translate(766.6 331.9) scale(1 1.045)" font-size="20.8" text-anchor="start">3</text>
<text transform="translate(766.6 289.3) scale(1 1.045)" font-size="20.8" text-anchor="start">4</text>
<text transform="translate(766.6 246.7) scale(1 1.045)" font-size="20.8" text-anchor="start">5</text>
<text transform="translate(766.6 204.1) scale(1 1.045)" font-size="20.8" text-anchor="start">6</text>
<text transform="translate(406.0 500.4) scale(1 1.045)" font-size="22.9" text-anchor="middle">Longitude</text>
<text transform="translate(28.4 317.3) rotate(-90) scale(1 1.045)" font-size="22.9" text-anchor="middle">Latitude</text>
<text transform="translate(406.3 184.7) scale(1 1.012)" font-size="23.01" text-anchor="middle" font-weight="bold" fill="#000">MAX-MIN AIR TEMPERATURE (C) 30-Aug-2025</text>
</g>
</svg>
</body></html>
